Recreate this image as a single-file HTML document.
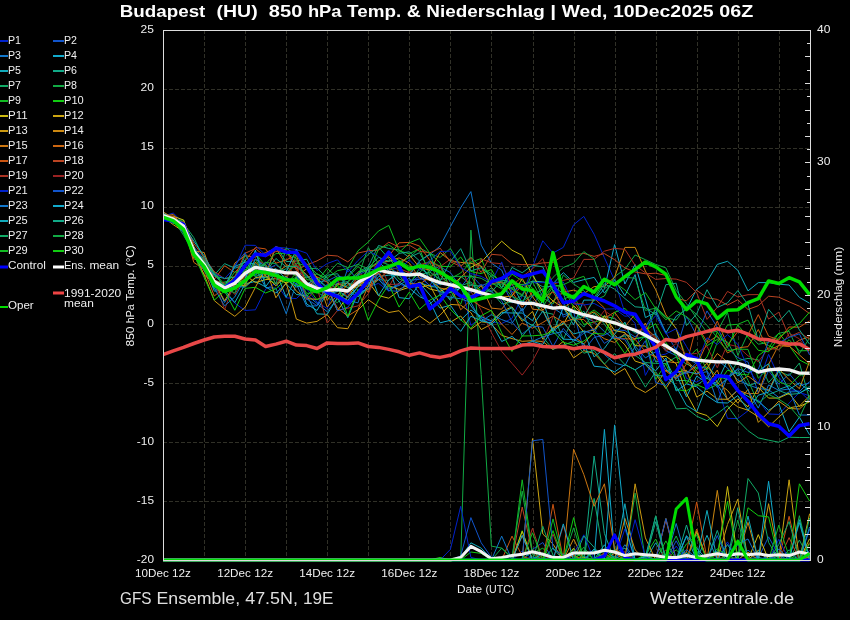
<!DOCTYPE html><html><head><meta charset="utf-8"><style>html,body{margin:0;padding:0;background:#000;}svg{display:block;will-change:transform;}text{font-family:"Liberation Sans",sans-serif;}</style></head><body>
<svg width="850" height="620" viewBox="0 0 850 620">
<rect width="850" height="620" fill="#000"/>
<path d="M163,89.5H810 M163,148.5H810 M163,207.5H810 M163,266.5H810 M163,324.5H810 M163,383.5H810 M163,442.5H810 M163,501.5H810 M204.5,30V560 M245.5,30V560 M286.5,30V560 M327.5,30V560 M368.5,30V560 M409.5,30V560 M450.5,30V560 M491.5,30V560 M533.5,30V560 M574.5,30V560 M615.5,30V560 M656.5,30V560 M697.5,30V560 M738.5,30V560 M779.5,30V560" stroke="#303027" stroke-width="1" stroke-dasharray="4 2" fill="none"/>
<defs><clipPath id="pc"><rect x="163" y="30" width="648.5" height="532"/></clipPath></defs>
<g clip-path="url(#pc)" fill="none" stroke-linejoin="round">
<polyline points="163.0,560.0 173.3,560.0 183.5,560.0 193.8,560.0 204.1,560.0 214.3,560.0 224.6,560.0 234.8,560.0 245.1,560.0 255.4,560.0 265.6,560.0 275.9,560.0 286.2,560.0 296.4,560.0 306.7,560.0 317.0,560.0 327.2,560.0 337.5,560.0 347.8,560.0 358.0,560.0 368.3,560.0 378.5,560.0 388.8,560.0 399.1,560.0 409.3,560.0 419.6,560.0 429.9,560.0 440.1,560.0 450.4,560.0 460.7,560.0 470.9,560.0 481.2,560.0 491.4,560.0 501.7,560.0 512.0,560.0 522.2,551.0 532.5,558.5 542.8,560.0 553.0,560.0 563.3,556.0 573.6,560.0 583.8,560.0 594.1,560.0 604.4,560.0 614.6,560.0 624.9,528.9 635.1,560.0 645.4,558.0 655.7,560.0 665.9,560.0 676.2,546.1 686.5,560.0 696.7,560.0 707.0,560.0 717.3,559.0 727.5,541.9 737.8,560.0 748.0,560.0 758.3,560.0 768.6,560.0 778.8,560.0 789.1,560.0 799.4,560.0 809.6,560.0" stroke="#0022cc" stroke-width="1"/>
<polyline points="163.0,560.0 173.3,560.0 183.5,560.0 193.8,560.0 204.1,560.0 214.3,560.0 224.6,560.0 234.8,560.0 245.1,560.0 255.4,560.0 265.6,560.0 275.9,560.0 286.2,560.0 296.4,560.0 306.7,560.0 317.0,560.0 327.2,560.0 337.5,560.0 347.8,560.0 358.0,560.0 368.3,560.0 378.5,560.0 388.8,560.0 399.1,560.0 409.3,560.0 419.6,560.0 429.9,560.0 440.1,560.0 450.4,560.0 460.7,560.0 470.9,560.0 481.2,560.0 491.4,560.0 501.7,560.0 512.0,560.0 522.2,560.0 532.5,549.3 542.8,542.5 553.0,560.0 563.3,560.0 573.6,560.0 583.8,560.0 594.1,560.0 604.4,560.0 614.6,560.0 624.9,560.0 635.1,560.0 645.4,560.0 655.7,560.0 665.9,560.0 676.2,540.8 686.5,560.0 696.7,560.0 707.0,560.0 717.3,560.0 727.5,560.0 737.8,560.0 748.0,550.2 758.3,558.0 768.6,536.8 778.8,555.5 789.1,560.0 799.4,560.0 809.6,550.5" stroke="#1155cc" stroke-width="1"/>
<polyline points="163.0,560.0 173.3,560.0 183.5,560.0 193.8,560.0 204.1,560.0 214.3,560.0 224.6,560.0 234.8,560.0 245.1,560.0 255.4,560.0 265.6,560.0 275.9,560.0 286.2,560.0 296.4,560.0 306.7,560.0 317.0,560.0 327.2,560.0 337.5,560.0 347.8,560.0 358.0,560.0 368.3,560.0 378.5,560.0 388.8,560.0 399.1,560.0 409.3,560.0 419.6,560.0 429.9,560.0 440.1,560.0 450.4,560.0 460.7,560.0 470.9,560.0 481.2,560.0 491.4,560.0 501.7,560.0 512.0,560.0 522.2,560.0 532.5,556.9 542.8,560.0 553.0,560.0 563.3,560.0 573.6,560.0 583.8,560.0 594.1,551.4 604.4,560.0 614.6,560.0 624.9,560.0 635.1,560.0 645.4,560.0 655.7,560.0 665.9,560.0 676.2,523.5 686.5,560.0 696.7,560.0 707.0,560.0 717.3,560.0 727.5,560.0 737.8,544.0 748.0,558.9 758.3,557.2 768.6,560.0 778.8,560.0 789.1,558.3 799.4,560.0 809.6,527.0" stroke="#1177cc" stroke-width="1"/>
<polyline points="163.0,560.0 173.3,560.0 183.5,560.0 193.8,560.0 204.1,560.0 214.3,560.0 224.6,560.0 234.8,560.0 245.1,560.0 255.4,560.0 265.6,560.0 275.9,560.0 286.2,560.0 296.4,560.0 306.7,560.0 317.0,560.0 327.2,560.0 337.5,560.0 347.8,560.0 358.0,560.0 368.3,560.0 378.5,560.0 388.8,560.0 399.1,560.0 409.3,560.0 419.6,560.0 429.9,560.0 440.1,560.0 450.4,560.0 460.7,560.0 470.9,560.0 481.2,560.0 491.4,560.0 501.7,560.0 512.0,560.0 522.2,560.0 532.5,560.0 542.8,558.3 553.0,560.0 563.3,560.0 573.6,560.0 583.8,559.6 594.1,560.0 604.4,429.4 614.6,553.4 624.9,548.1 635.1,560.0 645.4,560.0 655.7,560.0 665.9,560.0 676.2,560.0 686.5,536.5 696.7,560.0 707.0,560.0 717.3,560.0 727.5,560.0 737.8,560.0 748.0,560.0 758.3,560.0 768.6,560.0 778.8,560.0 789.1,560.0 799.4,560.0 809.6,560.0" stroke="#11aacc" stroke-width="1"/>
<polyline points="163.0,560.0 173.3,560.0 183.5,560.0 193.8,560.0 204.1,560.0 214.3,560.0 224.6,560.0 234.8,560.0 245.1,560.0 255.4,560.0 265.6,560.0 275.9,560.0 286.2,560.0 296.4,560.0 306.7,560.0 317.0,560.0 327.2,560.0 337.5,560.0 347.8,560.0 358.0,560.0 368.3,560.0 378.5,560.0 388.8,560.0 399.1,560.0 409.3,560.0 419.6,560.0 429.9,560.0 440.1,560.0 450.4,560.0 460.7,557.4 470.9,542.8 481.2,548.1 491.4,558.7 501.7,560.0 512.0,560.0 522.2,560.0 532.5,560.0 542.8,560.0 553.0,560.0 563.3,560.0 573.6,560.0 583.8,556.4 594.1,560.0 604.4,560.0 614.6,560.0 624.9,503.7 635.1,560.0 645.4,560.0 655.7,542.8 665.9,560.0 676.2,560.0 686.5,560.0 696.7,560.0 707.0,535.3 717.3,560.0 727.5,560.0 737.8,560.0 748.0,560.0 758.3,560.0 768.6,560.0 778.8,560.0 789.1,557.8 799.4,522.6 809.6,560.0" stroke="#11aabb" stroke-width="1"/>
<polyline points="163.0,560.0 173.3,560.0 183.5,560.0 193.8,560.0 204.1,560.0 214.3,560.0 224.6,560.0 234.8,560.0 245.1,560.0 255.4,560.0 265.6,560.0 275.9,560.0 286.2,560.0 296.4,560.0 306.7,560.0 317.0,560.0 327.2,560.0 337.5,560.0 347.8,560.0 358.0,560.0 368.3,560.0 378.5,560.0 388.8,560.0 399.1,560.0 409.3,560.0 419.6,560.0 429.9,560.0 440.1,560.0 450.4,560.0 460.7,560.0 470.9,560.0 481.2,560.0 491.4,560.0 501.7,560.0 512.0,560.0 522.2,560.0 532.5,560.0 542.8,560.0 553.0,560.0 563.3,560.0 573.6,560.0 583.8,560.0 594.1,456.0 604.4,533.5 614.6,560.0 624.9,560.0 635.1,560.0 645.4,560.0 655.7,521.7 665.9,560.0 676.2,560.0 686.5,560.0 696.7,560.0 707.0,560.0 717.3,560.0 727.5,560.0 737.8,560.0 748.0,560.0 758.3,550.8 768.6,559.9 778.8,560.0 789.1,549.8 799.4,560.0 809.6,560.0" stroke="#11aa88" stroke-width="1"/>
<polyline points="163.0,560.0 173.3,560.0 183.5,560.0 193.8,560.0 204.1,560.0 214.3,560.0 224.6,560.0 234.8,560.0 245.1,560.0 255.4,560.0 265.6,560.0 275.9,560.0 286.2,560.0 296.4,560.0 306.7,560.0 317.0,560.0 327.2,560.0 337.5,560.0 347.8,560.0 358.0,560.0 368.3,560.0 378.5,560.0 388.8,560.0 399.1,560.0 409.3,560.0 419.6,560.0 429.9,560.0 440.1,560.0 450.4,560.0 460.7,560.0 470.9,560.0 481.2,560.0 491.4,560.0 501.7,560.0 512.0,560.0 522.2,560.0 532.5,560.0 542.8,560.0 553.0,560.0 563.3,560.0 573.6,560.0 583.8,560.0 594.1,498.4 604.4,560.0 614.6,560.0 624.9,560.0 635.1,560.0 645.4,560.0 655.7,560.0 665.9,560.0 676.2,560.0 686.5,560.0 696.7,560.0 707.0,560.0 717.3,560.0 727.5,560.0 737.8,557.9 748.0,478.5 758.3,493.0 768.6,542.4 778.8,560.0 789.1,560.0 799.4,540.0 809.6,560.0" stroke="#11aa66" stroke-width="1"/>
<polyline points="163.0,560.0 173.3,560.0 183.5,560.0 193.8,560.0 204.1,560.0 214.3,560.0 224.6,560.0 234.8,560.0 245.1,560.0 255.4,560.0 265.6,560.0 275.9,560.0 286.2,560.0 296.4,560.0 306.7,560.0 317.0,560.0 327.2,560.0 337.5,560.0 347.8,560.0 358.0,560.0 368.3,560.0 378.5,560.0 388.8,560.0 399.1,560.0 409.3,560.0 419.6,560.0 429.9,560.0 440.1,560.0 450.4,560.0 460.7,560.0 470.9,230.1 481.2,374.5 491.4,546.1 501.7,548.1 512.0,558.7 522.2,560.0 532.5,551.0 542.8,560.0 553.0,560.0 563.3,553.9 573.6,560.0 583.8,547.2 594.1,560.0 604.4,553.6 614.6,560.0 624.9,560.0 635.1,493.1 645.4,560.0 655.7,560.0 665.9,555.1 676.2,536.0 686.5,560.0 696.7,551.3 707.0,560.0 717.3,560.0 727.5,560.0 737.8,520.0 748.0,560.0 758.3,560.0 768.6,559.1 778.8,560.0 789.1,560.0 799.4,515.7 809.6,560.0" stroke="#11aa44" stroke-width="1"/>
<polyline points="163.0,560.0 173.3,560.0 183.5,560.0 193.8,560.0 204.1,560.0 214.3,560.0 224.6,560.0 234.8,560.0 245.1,560.0 255.4,560.0 265.6,560.0 275.9,560.0 286.2,560.0 296.4,560.0 306.7,560.0 317.0,560.0 327.2,560.0 337.5,560.0 347.8,560.0 358.0,560.0 368.3,560.0 378.5,560.0 388.8,560.0 399.1,560.0 409.3,560.0 419.6,560.0 429.9,560.0 440.1,560.0 450.4,560.0 460.7,560.0 470.9,560.0 481.2,560.0 491.4,560.0 501.7,560.0 512.0,560.0 522.2,479.8 532.5,553.4 542.8,548.1 553.0,560.0 563.3,557.2 573.6,556.4 583.8,560.0 594.1,560.0 604.4,560.0 614.6,560.0 624.9,560.0 635.1,553.2 645.4,555.4 655.7,539.0 665.9,560.0 676.2,549.8 686.5,560.0 696.7,532.8 707.0,560.0 717.3,560.0 727.5,560.0 737.8,560.0 748.0,560.0 758.3,560.0 768.6,560.0 778.8,560.0 789.1,560.0 799.4,560.0 809.6,560.0" stroke="#11bb22" stroke-width="1"/>
<polyline points="163.0,560.0 173.3,560.0 183.5,560.0 193.8,560.0 204.1,560.0 214.3,560.0 224.6,560.0 234.8,560.0 245.1,560.0 255.4,560.0 265.6,560.0 275.9,560.0 286.2,560.0 296.4,560.0 306.7,560.0 317.0,560.0 327.2,560.0 337.5,560.0 347.8,560.0 358.0,560.0 368.3,560.0 378.5,560.0 388.8,560.0 399.1,560.0 409.3,560.0 419.6,560.0 429.9,560.0 440.1,557.4 450.4,560.0 460.7,560.0 470.9,552.0 481.2,553.4 491.4,560.0 501.7,560.0 512.0,560.0 522.2,530.7 532.5,560.0 542.8,560.0 553.0,560.0 563.3,560.0 573.6,517.6 583.8,560.0 594.1,550.6 604.4,560.0 614.6,560.0 624.9,560.0 635.1,560.0 645.4,560.0 655.7,560.0 665.9,560.0 676.2,560.0 686.5,552.4 696.7,560.0 707.0,560.0 717.3,548.8 727.5,555.1 737.8,551.9 748.0,559.6 758.3,560.0 768.6,560.0 778.8,560.0 789.1,560.0 799.4,483.8 809.6,501.0" stroke="#11cc11" stroke-width="1"/>
<polyline points="163.0,560.0 173.3,560.0 183.5,560.0 193.8,560.0 204.1,560.0 214.3,560.0 224.6,560.0 234.8,560.0 245.1,560.0 255.4,560.0 265.6,560.0 275.9,560.0 286.2,560.0 296.4,560.0 306.7,560.0 317.0,560.0 327.2,560.0 337.5,560.0 347.8,560.0 358.0,560.0 368.3,560.0 378.5,560.0 388.8,560.0 399.1,560.0 409.3,560.0 419.6,560.0 429.9,560.0 440.1,560.0 450.4,560.0 460.7,560.0 470.9,560.0 481.2,560.0 491.4,560.0 501.7,560.0 512.0,560.0 522.2,531.3 532.5,560.0 542.8,560.0 553.0,560.0 563.3,560.0 573.6,548.2 583.8,560.0 594.1,560.0 604.4,560.0 614.6,560.0 624.9,560.0 635.1,560.0 645.4,560.0 655.7,560.0 665.9,560.0 676.2,557.7 686.5,560.0 696.7,531.3 707.0,560.0 717.3,560.0 727.5,486.5 737.8,560.0 748.0,560.0 758.3,534.6 768.6,560.0 778.8,560.0 789.1,560.0 799.4,560.0 809.6,538.8" stroke="#ccbb11" stroke-width="1"/>
<polyline points="163.0,560.0 173.3,560.0 183.5,560.0 193.8,560.0 204.1,560.0 214.3,560.0 224.6,560.0 234.8,560.0 245.1,560.0 255.4,560.0 265.6,560.0 275.9,560.0 286.2,560.0 296.4,560.0 306.7,560.0 317.0,560.0 327.2,560.0 337.5,560.0 347.8,560.0 358.0,560.0 368.3,560.0 378.5,560.0 388.8,560.0 399.1,560.0 409.3,560.0 419.6,560.0 429.9,560.0 440.1,560.0 450.4,560.0 460.7,560.0 470.9,560.0 481.2,560.0 491.4,560.0 501.7,560.0 512.0,560.0 522.2,560.0 532.5,438.6 542.8,534.0 553.0,544.1 563.3,560.0 573.6,560.0 583.8,557.5 594.1,560.0 604.4,560.0 614.6,560.0 624.9,560.0 635.1,559.0 645.4,560.0 655.7,560.0 665.9,560.0 676.2,560.0 686.5,560.0 696.7,560.0 707.0,560.0 717.3,560.0 727.5,524.4 737.8,499.2 748.0,560.0 758.3,550.2 768.6,560.0 778.8,560.0 789.1,479.8 799.4,560.0 809.6,513.7" stroke="#cca511" stroke-width="1"/>
<polyline points="163.0,560.0 173.3,560.0 183.5,560.0 193.8,560.0 204.1,560.0 214.3,560.0 224.6,560.0 234.8,560.0 245.1,560.0 255.4,560.0 265.6,560.0 275.9,560.0 286.2,560.0 296.4,560.0 306.7,560.0 317.0,560.0 327.2,560.0 337.5,560.0 347.8,560.0 358.0,560.0 368.3,560.0 378.5,560.0 388.8,560.0 399.1,560.0 409.3,560.0 419.6,560.0 429.9,560.0 440.1,560.0 450.4,560.0 460.7,560.0 470.9,560.0 481.2,560.0 491.4,560.0 501.7,560.0 512.0,560.0 522.2,560.0 532.5,560.0 542.8,560.0 553.0,560.0 563.3,560.0 573.6,559.9 583.8,560.0 594.1,560.0 604.4,560.0 614.6,553.3 624.9,560.0 635.1,483.8 645.4,537.9 655.7,560.0 665.9,518.5 676.2,560.0 686.5,560.0 696.7,560.0 707.0,560.0 717.3,560.0 727.5,560.0 737.8,560.0 748.0,560.0 758.3,560.0 768.6,503.7 778.8,558.3 789.1,560.0 799.4,560.0 809.6,560.0" stroke="#cc9911" stroke-width="1"/>
<polyline points="163.0,560.0 173.3,560.0 183.5,560.0 193.8,560.0 204.1,560.0 214.3,560.0 224.6,560.0 234.8,560.0 245.1,560.0 255.4,560.0 265.6,560.0 275.9,560.0 286.2,560.0 296.4,560.0 306.7,560.0 317.0,560.0 327.2,560.0 337.5,560.0 347.8,560.0 358.0,560.0 368.3,560.0 378.5,560.0 388.8,560.0 399.1,560.0 409.3,560.0 419.6,560.0 429.9,560.0 440.1,560.0 450.4,560.0 460.7,560.0 470.9,560.0 481.2,560.0 491.4,560.0 501.7,560.0 512.0,560.0 522.2,560.0 532.5,560.0 542.8,560.0 553.0,560.0 563.3,560.0 573.6,539.0 583.8,560.0 594.1,560.0 604.4,560.0 614.6,560.0 624.9,518.4 635.1,549.8 645.4,560.0 655.7,560.0 665.9,560.0 676.2,560.0 686.5,560.0 696.7,560.0 707.0,560.0 717.3,490.4 727.5,560.0 737.8,557.2 748.0,522.4 758.3,560.0 768.6,560.0 778.8,560.0 789.1,560.0 799.4,560.0 809.6,556.6" stroke="#cc8811" stroke-width="1"/>
<polyline points="163.0,560.0 173.3,560.0 183.5,560.0 193.8,560.0 204.1,560.0 214.3,560.0 224.6,560.0 234.8,560.0 245.1,560.0 255.4,560.0 265.6,560.0 275.9,560.0 286.2,560.0 296.4,560.0 306.7,560.0 317.0,560.0 327.2,560.0 337.5,560.0 347.8,560.0 358.0,560.0 368.3,560.0 378.5,560.0 388.8,560.0 399.1,560.0 409.3,560.0 419.6,560.0 429.9,560.0 440.1,560.0 450.4,560.0 460.7,560.0 470.9,560.0 481.2,560.0 491.4,560.0 501.7,560.0 512.0,560.0 522.2,560.0 532.5,560.0 542.8,560.0 553.0,560.0 563.3,560.0 573.6,449.2 583.8,474.5 594.1,506.3 604.4,483.8 614.6,549.4 624.9,555.0 635.1,560.0 645.4,560.0 655.7,560.0 665.9,560.0 676.2,560.0 686.5,560.0 696.7,559.5 707.0,560.0 717.3,560.0 727.5,560.0 737.8,560.0 748.0,552.1 758.3,560.0 768.6,560.0 778.8,560.0 789.1,560.0 799.4,560.0 809.6,557.3" stroke="#cc7711" stroke-width="1"/>
<polyline points="163.0,560.0 173.3,560.0 183.5,560.0 193.8,560.0 204.1,560.0 214.3,560.0 224.6,560.0 234.8,560.0 245.1,560.0 255.4,560.0 265.6,560.0 275.9,560.0 286.2,560.0 296.4,560.0 306.7,560.0 317.0,560.0 327.2,560.0 337.5,560.0 347.8,560.0 358.0,560.0 368.3,560.0 378.5,560.0 388.8,560.0 399.1,560.0 409.3,560.0 419.6,560.0 429.9,560.0 440.1,560.0 450.4,560.0 460.7,560.0 470.9,560.0 481.2,560.0 491.4,560.0 501.7,560.0 512.0,560.0 522.2,535.8 532.5,560.0 542.8,560.0 553.0,560.0 563.3,560.0 573.6,555.4 583.8,560.0 594.1,560.0 604.4,558.8 614.6,560.0 624.9,560.0 635.1,560.0 645.4,560.0 655.7,560.0 665.9,554.3 676.2,560.0 686.5,560.0 696.7,529.0 707.0,560.0 717.3,560.0 727.5,560.0 737.8,560.0 748.0,560.0 758.3,560.0 768.6,560.0 778.8,549.0 789.1,560.0 799.4,560.0 809.6,560.0" stroke="#cc6611" stroke-width="1"/>
<polyline points="163.0,560.0 173.3,560.0 183.5,560.0 193.8,560.0 204.1,560.0 214.3,560.0 224.6,560.0 234.8,560.0 245.1,560.0 255.4,560.0 265.6,560.0 275.9,560.0 286.2,560.0 296.4,560.0 306.7,560.0 317.0,560.0 327.2,560.0 337.5,560.0 347.8,560.0 358.0,560.0 368.3,560.0 378.5,560.0 388.8,560.0 399.1,560.0 409.3,560.0 419.6,560.0 429.9,560.0 440.1,560.0 450.4,560.0 460.7,560.0 470.9,560.0 481.2,560.0 491.4,560.0 501.7,560.0 512.0,536.1 522.2,556.0 532.5,560.0 542.8,560.0 553.0,504.3 563.3,560.0 573.6,560.0 583.8,560.0 594.1,560.0 604.4,560.0 614.6,560.0 624.9,560.0 635.1,560.0 645.4,556.0 655.7,560.0 665.9,560.0 676.2,560.0 686.5,552.1 696.7,501.9 707.0,559.2 717.3,552.1 727.5,560.0 737.8,560.0 748.0,560.0 758.3,560.0 768.6,560.0 778.8,560.0 789.1,516.3 799.4,560.0 809.6,542.6" stroke="#cc5511" stroke-width="1"/>
<polyline points="163.0,560.0 173.3,560.0 183.5,560.0 193.8,560.0 204.1,560.0 214.3,560.0 224.6,560.0 234.8,560.0 245.1,560.0 255.4,560.0 265.6,560.0 275.9,560.0 286.2,560.0 296.4,560.0 306.7,560.0 317.0,560.0 327.2,560.0 337.5,560.0 347.8,560.0 358.0,560.0 368.3,560.0 378.5,560.0 388.8,560.0 399.1,560.0 409.3,560.0 419.6,560.0 429.9,560.0 440.1,560.0 450.4,560.0 460.7,560.0 470.9,560.0 481.2,560.0 491.4,560.0 501.7,560.0 512.0,560.0 522.2,507.0 532.5,553.0 542.8,560.0 553.0,560.0 563.3,560.0 573.6,549.8 583.8,560.0 594.1,560.0 604.4,552.8 614.6,560.0 624.9,551.6 635.1,560.0 645.4,560.0 655.7,559.4 665.9,519.8 676.2,560.0 686.5,560.0 696.7,560.0 707.0,560.0 717.3,560.0 727.5,560.0 737.8,560.0 748.0,560.0 758.3,560.0 768.6,560.0 778.8,560.0 789.1,537.6 799.4,560.0 809.6,560.0" stroke="#bb4422" stroke-width="1"/>
<polyline points="163.0,560.0 173.3,560.0 183.5,560.0 193.8,560.0 204.1,560.0 214.3,560.0 224.6,560.0 234.8,560.0 245.1,560.0 255.4,560.0 265.6,560.0 275.9,560.0 286.2,560.0 296.4,560.0 306.7,560.0 317.0,560.0 327.2,560.0 337.5,560.0 347.8,560.0 358.0,560.0 368.3,560.0 378.5,560.0 388.8,560.0 399.1,560.0 409.3,560.0 419.6,560.0 429.9,560.0 440.1,560.0 450.4,560.0 460.7,560.0 470.9,560.0 481.2,560.0 491.4,560.0 501.7,560.0 512.0,560.0 522.2,560.0 532.5,528.2 542.8,560.0 553.0,534.2 563.3,560.0 573.6,560.0 583.8,560.0 594.1,560.0 604.4,560.0 614.6,560.0 624.9,560.0 635.1,560.0 645.4,556.5 655.7,560.0 665.9,560.0 676.2,559.5 686.5,560.0 696.7,560.0 707.0,560.0 717.3,560.0 727.5,560.0 737.8,560.0 748.0,558.4 758.3,560.0 768.6,560.0 778.8,560.0 789.1,560.0 799.4,560.0 809.6,560.0" stroke="#aa3322" stroke-width="1"/>
<polyline points="163.0,560.0 173.3,560.0 183.5,560.0 193.8,560.0 204.1,560.0 214.3,560.0 224.6,560.0 234.8,560.0 245.1,560.0 255.4,560.0 265.6,560.0 275.9,560.0 286.2,560.0 296.4,560.0 306.7,560.0 317.0,560.0 327.2,560.0 337.5,560.0 347.8,560.0 358.0,560.0 368.3,560.0 378.5,560.0 388.8,560.0 399.1,560.0 409.3,560.0 419.6,560.0 429.9,560.0 440.1,560.0 450.4,560.0 460.7,560.0 470.9,560.0 481.2,560.0 491.4,560.0 501.7,560.0 512.0,560.0 522.2,560.0 532.5,560.0 542.8,555.5 553.0,560.0 563.3,525.7 573.6,560.0 583.8,560.0 594.1,560.0 604.4,560.0 614.6,560.0 624.9,560.0 635.1,560.0 645.4,560.0 655.7,560.0 665.9,549.8 676.2,560.0 686.5,560.0 696.7,560.0 707.0,554.5 717.3,556.7 727.5,560.0 737.8,560.0 748.0,560.0 758.3,560.0 768.6,560.0 778.8,560.0 789.1,560.0 799.4,560.0 809.6,560.0" stroke="#992222" stroke-width="1"/>
<polyline points="163.0,560.0 173.3,560.0 183.5,560.0 193.8,560.0 204.1,560.0 214.3,560.0 224.6,560.0 234.8,560.0 245.1,560.0 255.4,560.0 265.6,560.0 275.9,560.0 286.2,560.0 296.4,560.0 306.7,560.0 317.0,560.0 327.2,560.0 337.5,560.0 347.8,560.0 358.0,560.0 368.3,560.0 378.5,560.0 388.8,560.0 399.1,560.0 409.3,560.0 419.6,560.0 429.9,560.0 440.1,560.0 450.4,549.4 460.7,506.3 470.9,557.4 481.2,560.0 491.4,560.0 501.7,560.0 512.0,560.0 522.2,560.0 532.5,560.0 542.8,559.8 553.0,560.0 563.3,560.0 573.6,554.0 583.8,534.8 594.1,560.0 604.4,558.3 614.6,560.0 624.9,560.0 635.1,519.7 645.4,557.2 655.7,560.0 665.9,560.0 676.2,560.0 686.5,560.0 696.7,560.0 707.0,560.0 717.3,560.0 727.5,560.0 737.8,560.0 748.0,560.0 758.3,560.0 768.6,560.0 778.8,539.3 789.1,559.9 799.4,560.0 809.6,560.0" stroke="#0022cc" stroke-width="1"/>
<polyline points="163.0,560.0 173.3,560.0 183.5,560.0 193.8,560.0 204.1,560.0 214.3,560.0 224.6,560.0 234.8,560.0 245.1,560.0 255.4,560.0 265.6,560.0 275.9,560.0 286.2,560.0 296.4,560.0 306.7,560.0 317.0,560.0 327.2,560.0 337.5,560.0 347.8,560.0 358.0,560.0 368.3,560.0 378.5,560.0 388.8,560.0 399.1,560.0 409.3,560.0 419.6,560.0 429.9,560.0 440.1,560.0 450.4,560.0 460.7,556.0 470.9,517.6 481.2,542.8 491.4,557.4 501.7,560.0 512.0,560.0 522.2,560.0 532.5,440.8 542.8,439.4 553.0,549.4 563.3,554.7 573.6,560.0 583.8,560.0 594.1,549.3 604.4,560.0 614.6,560.0 624.9,557.8 635.1,560.0 645.4,560.0 655.7,560.0 665.9,518.6 676.2,560.0 686.5,560.0 696.7,560.0 707.0,560.0 717.3,535.5 727.5,560.0 737.8,560.0 748.0,560.0 758.3,560.0 768.6,556.1 778.8,560.0 789.1,560.0 799.4,560.0 809.6,555.5" stroke="#1155cc" stroke-width="1"/>
<polyline points="163.0,560.0 173.3,560.0 183.5,560.0 193.8,560.0 204.1,560.0 214.3,560.0 224.6,560.0 234.8,560.0 245.1,560.0 255.4,560.0 265.6,560.0 275.9,560.0 286.2,560.0 296.4,560.0 306.7,560.0 317.0,560.0 327.2,560.0 337.5,560.0 347.8,560.0 358.0,560.0 368.3,560.0 378.5,560.0 388.8,560.0 399.1,560.0 409.3,560.0 419.6,560.0 429.9,560.0 440.1,560.0 450.4,560.0 460.7,560.0 470.9,560.0 481.2,560.0 491.4,560.0 501.7,536.1 512.0,560.0 522.2,560.0 532.5,560.0 542.8,560.0 553.0,560.0 563.3,560.0 573.6,560.0 583.8,560.0 594.1,560.0 604.4,560.0 614.6,560.0 624.9,544.7 635.1,560.0 645.4,560.0 655.7,560.0 665.9,560.0 676.2,560.0 686.5,549.8 696.7,557.8 707.0,560.0 717.3,550.7 727.5,560.0 737.8,543.9 748.0,539.0 758.3,560.0 768.6,560.0 778.8,548.9 789.1,560.0 799.4,560.0 809.6,529.1" stroke="#1177cc" stroke-width="1"/>
<polyline points="163.0,560.0 173.3,560.0 183.5,560.0 193.8,560.0 204.1,560.0 214.3,560.0 224.6,560.0 234.8,560.0 245.1,560.0 255.4,560.0 265.6,560.0 275.9,560.0 286.2,560.0 296.4,560.0 306.7,560.0 317.0,560.0 327.2,560.0 337.5,560.0 347.8,560.0 358.0,560.0 368.3,560.0 378.5,560.0 388.8,560.0 399.1,560.0 409.3,560.0 419.6,560.0 429.9,560.0 440.1,560.0 450.4,560.0 460.7,560.0 470.9,560.0 481.2,560.0 491.4,560.0 501.7,560.0 512.0,560.0 522.2,535.3 532.5,560.0 542.8,553.1 553.0,560.0 563.3,523.9 573.6,560.0 583.8,560.0 594.1,548.9 604.4,560.0 614.6,424.9 624.9,525.5 635.1,560.0 645.4,556.8 655.7,516.2 665.9,560.0 676.2,560.0 686.5,535.6 696.7,548.0 707.0,560.0 717.3,560.0 727.5,560.0 737.8,560.0 748.0,560.0 758.3,560.0 768.6,481.2 778.8,560.0 789.1,560.0 799.4,560.0 809.6,560.0" stroke="#11aacc" stroke-width="1"/>
<polyline points="163.0,560.0 173.3,560.0 183.5,560.0 193.8,560.0 204.1,560.0 214.3,560.0 224.6,560.0 234.8,560.0 245.1,560.0 255.4,560.0 265.6,560.0 275.9,560.0 286.2,560.0 296.4,560.0 306.7,560.0 317.0,560.0 327.2,560.0 337.5,560.0 347.8,560.0 358.0,560.0 368.3,560.0 378.5,560.0 388.8,560.0 399.1,560.0 409.3,560.0 419.6,560.0 429.9,560.0 440.1,560.0 450.4,560.0 460.7,560.0 470.9,560.0 481.2,560.0 491.4,560.0 501.7,560.0 512.0,560.0 522.2,560.0 532.5,560.0 542.8,560.0 553.0,560.0 563.3,560.0 573.6,560.0 583.8,560.0 594.1,559.5 604.4,544.8 614.6,560.0 624.9,560.0 635.1,560.0 645.4,555.9 655.7,560.0 665.9,560.0 676.2,560.0 686.5,553.0 696.7,560.0 707.0,510.4 717.3,560.0 727.5,544.5 737.8,560.0 748.0,516.1 758.3,560.0 768.6,558.4 778.8,560.0 789.1,560.0 799.4,519.7 809.6,560.0" stroke="#11aabb" stroke-width="1"/>
<polyline points="163.0,560.0 173.3,560.0 183.5,560.0 193.8,560.0 204.1,560.0 214.3,560.0 224.6,560.0 234.8,560.0 245.1,560.0 255.4,560.0 265.6,560.0 275.9,560.0 286.2,560.0 296.4,560.0 306.7,560.0 317.0,560.0 327.2,560.0 337.5,560.0 347.8,560.0 358.0,560.0 368.3,560.0 378.5,560.0 388.8,560.0 399.1,560.0 409.3,560.0 419.6,560.0 429.9,560.0 440.1,560.0 450.4,560.0 460.7,560.0 470.9,560.0 481.2,560.0 491.4,560.0 501.7,560.0 512.0,560.0 522.2,560.0 532.5,560.0 542.8,560.0 553.0,547.9 563.3,560.0 573.6,560.0 583.8,536.0 594.1,547.3 604.4,560.0 614.6,556.5 624.9,560.0 635.1,560.0 645.4,560.0 655.7,560.0 665.9,554.1 676.2,560.0 686.5,525.0 696.7,560.0 707.0,560.0 717.3,530.4 727.5,560.0 737.8,507.7 748.0,560.0 758.3,560.0 768.6,560.0 778.8,555.8 789.1,553.5 799.4,560.0 809.6,560.0" stroke="#11aa88" stroke-width="1"/>
<polyline points="163.0,560.0 173.3,560.0 183.5,560.0 193.8,560.0 204.1,560.0 214.3,560.0 224.6,560.0 234.8,560.0 245.1,560.0 255.4,560.0 265.6,560.0 275.9,560.0 286.2,560.0 296.4,560.0 306.7,560.0 317.0,560.0 327.2,560.0 337.5,560.0 347.8,560.0 358.0,560.0 368.3,560.0 378.5,560.0 388.8,560.0 399.1,560.0 409.3,560.0 419.6,560.0 429.9,560.0 440.1,560.0 450.4,560.0 460.7,560.0 470.9,560.0 481.2,560.0 491.4,560.0 501.7,560.0 512.0,560.0 522.2,560.0 532.5,560.0 542.8,526.3 553.0,555.2 563.3,560.0 573.6,560.0 583.8,560.0 594.1,560.0 604.4,560.0 614.6,560.0 624.9,560.0 635.1,560.0 645.4,560.0 655.7,515.7 665.9,560.0 676.2,560.0 686.5,560.0 696.7,560.0 707.0,560.0 717.3,560.0 727.5,560.0 737.8,560.0 748.0,560.0 758.3,560.0 768.6,560.0 778.8,544.5 789.1,521.6 799.4,559.6 809.6,518.0" stroke="#11aa66" stroke-width="1"/>
<polyline points="163.0,560.0 173.3,560.0 183.5,560.0 193.8,560.0 204.1,560.0 214.3,560.0 224.6,560.0 234.8,560.0 245.1,560.0 255.4,560.0 265.6,560.0 275.9,560.0 286.2,560.0 296.4,560.0 306.7,560.0 317.0,560.0 327.2,560.0 337.5,560.0 347.8,560.0 358.0,560.0 368.3,560.0 378.5,560.0 388.8,560.0 399.1,560.0 409.3,560.0 419.6,560.0 429.9,560.0 440.1,560.0 450.4,560.0 460.7,560.0 470.9,560.0 481.2,560.0 491.4,560.0 501.7,548.1 512.0,557.4 522.2,491.1 532.5,554.7 542.8,560.0 553.0,560.0 563.3,560.0 573.6,527.8 583.8,560.0 594.1,560.0 604.4,556.3 614.6,559.4 624.9,560.0 635.1,560.0 645.4,560.0 655.7,560.0 665.9,560.0 676.2,560.0 686.5,558.4 696.7,560.0 707.0,553.9 717.3,560.0 727.5,555.3 737.8,560.0 748.0,560.0 758.3,560.0 768.6,560.0 778.8,560.0 789.1,560.0 799.4,560.0 809.6,560.0" stroke="#11aa44" stroke-width="1"/>
<polyline points="163.0,560.0 173.3,560.0 183.5,560.0 193.8,560.0 204.1,560.0 214.3,560.0 224.6,560.0 234.8,560.0 245.1,560.0 255.4,560.0 265.6,560.0 275.9,560.0 286.2,560.0 296.4,560.0 306.7,560.0 317.0,560.0 327.2,560.0 337.5,560.0 347.8,560.0 358.0,560.0 368.3,560.0 378.5,560.0 388.8,560.0 399.1,560.0 409.3,560.0 419.6,560.0 429.9,560.0 440.1,560.0 450.4,560.0 460.7,560.0 470.9,560.0 481.2,560.0 491.4,560.0 501.7,560.0 512.0,560.0 522.2,560.0 532.5,532.8 542.8,560.0 553.0,518.9 563.3,560.0 573.6,549.3 583.8,560.0 594.1,560.0 604.4,549.2 614.6,560.0 624.9,560.0 635.1,560.0 645.4,560.0 655.7,560.0 665.9,540.9 676.2,560.0 686.5,543.9 696.7,535.3 707.0,560.0 717.3,560.0 727.5,560.0 737.8,560.0 748.0,560.0 758.3,560.0 768.6,560.0 778.8,525.1 789.1,556.3 799.4,560.0 809.6,560.0" stroke="#11bb22" stroke-width="1"/>
<polyline points="163.0,560.0 173.3,560.0 183.5,560.0 193.8,560.0 204.1,560.0 214.3,560.0 224.6,560.0 234.8,560.0 245.1,560.0 255.4,560.0 265.6,560.0 275.9,560.0 286.2,560.0 296.4,560.0 306.7,560.0 317.0,560.0 327.2,560.0 337.5,560.0 347.8,560.0 358.0,560.0 368.3,560.0 378.5,560.0 388.8,560.0 399.1,560.0 409.3,560.0 419.6,560.0 429.9,560.0 440.1,560.0 450.4,560.0 460.7,560.0 470.9,560.0 481.2,560.0 491.4,560.0 501.7,560.0 512.0,560.0 522.2,560.0 532.5,560.0 542.8,560.0 553.0,530.6 563.3,560.0 573.6,560.0 583.8,550.8 594.1,560.0 604.4,560.0 614.6,550.1 624.9,560.0 635.1,560.0 645.4,554.3 655.7,560.0 665.9,560.0 676.2,557.3 686.5,560.0 696.7,560.0 707.0,560.0 717.3,553.7 727.5,501.3 737.8,560.0 748.0,507.8 758.3,515.7 768.6,516.9 778.8,560.0 789.1,560.0 799.4,560.0 809.6,543.8" stroke="#11cc11" stroke-width="1"/>
<polyline points="163.0,216.1 173.3,213.1 183.5,223.1 193.8,250.8 204.1,270.5 214.3,282.9 224.6,292.3 234.8,303.1 245.1,310.5 255.4,309.8 265.6,289.1 275.9,283.2 286.2,297.8 296.4,298.6 306.7,288.9 317.0,302.1 327.2,308.6 337.5,281.1 347.8,294.2 358.0,294.7 368.3,286.9 378.5,283.4 388.8,291.1 399.1,284.1 409.3,287.6 419.6,277.0 429.9,285.8 440.1,284.3 450.4,285.0 460.7,282.8 470.9,325.4 481.2,317.4 491.4,321.7 501.7,323.5 512.0,318.5 522.2,295.6 532.5,267.1 542.8,240.8 553.0,253.0 563.3,247.4 573.6,224.8 583.8,216.4 594.1,234.2 604.4,257.7 614.6,280.4 624.9,312.8 635.1,323.3 645.4,375.4 655.7,356.2 665.9,354.0 676.2,348.2 686.5,378.4 696.7,382.1 707.0,375.8 717.3,385.3 727.5,418.4 737.8,418.5 748.0,410.8 758.3,399.7 768.6,414.0 778.8,414.4 789.1,403.1 799.4,392.4 809.6,395.9" stroke="#0022cc" stroke-width="1"/>
<polyline points="163.0,212.1 173.3,218.7 183.5,226.4 193.8,246.7 204.1,259.7 214.3,274.9 224.6,285.9 234.8,283.8 245.1,280.0 255.4,270.5 265.6,270.6 275.9,264.6 286.2,272.9 296.4,272.2 306.7,276.5 317.0,281.5 327.2,281.0 337.5,275.9 347.8,278.5 358.0,275.2 368.3,269.8 378.5,269.3 388.8,267.8 399.1,273.7 409.3,283.2 419.6,275.6 429.9,285.8 440.1,266.9 450.4,272.6 460.7,287.1 470.9,274.7 481.2,285.8 491.4,281.6 501.7,281.8 512.0,302.7 522.2,301.1 532.5,304.9 542.8,292.1 553.0,283.1 563.3,317.2 573.6,311.9 583.8,350.7 594.1,337.4 604.4,335.1 614.6,329.7 624.9,330.5 635.1,336.9 645.4,327.3 655.7,309.5 665.9,332.8 676.2,350.0 686.5,316.3 696.7,335.5 707.0,310.9 717.3,327.3 727.5,348.2 737.8,357.7 748.0,362.0 758.3,392.8 768.6,370.7 778.8,384.2 789.1,373.6 799.4,385.7 809.6,382.9" stroke="#1155cc" stroke-width="1"/>
<polyline points="163.0,214.0 173.3,219.6 183.5,231.2 193.8,252.5 204.1,262.8 214.3,281.8 224.6,302.5 234.8,286.4 245.1,283.2 255.4,268.1 265.6,287.5 275.9,288.2 286.2,313.8 296.4,283.1 306.7,294.8 317.0,303.4 327.2,311.7 337.5,298.3 347.8,268.5 358.0,280.2 368.3,283.6 378.5,279.2 388.8,290.9 399.1,283.1 409.3,274.3 419.6,260.8 429.9,254.6 440.1,246.1 450.4,226.7 460.7,207.8 470.9,191.6 481.2,245.1 491.4,263.1 501.7,270.1 512.0,294.8 522.2,311.4 532.5,295.8 542.8,288.8 553.0,307.8 563.3,314.7 573.6,312.1 583.8,316.9 594.1,321.6 604.4,331.6 614.6,339.3 624.9,334.7 635.1,338.7 645.4,337.4 655.7,333.8 665.9,350.6 676.2,355.6 686.5,358.0 696.7,363.6 707.0,379.2 717.3,360.1 727.5,368.0 737.8,380.1 748.0,384.7 758.3,388.5 768.6,389.7 778.8,397.5 789.1,391.9 799.4,391.6 809.6,381.6" stroke="#1177cc" stroke-width="1"/>
<polyline points="163.0,216.1 173.3,223.4 183.5,222.9 193.8,253.1 204.1,264.6 214.3,288.8 224.6,290.8 234.8,286.2 245.1,287.1 255.4,278.0 265.6,277.5 275.9,271.5 286.2,297.4 296.4,276.9 306.7,304.0 317.0,310.5 327.2,292.7 337.5,295.1 347.8,300.4 358.0,286.7 368.3,281.2 378.5,273.7 388.8,266.9 399.1,297.6 409.3,298.8 419.6,283.1 429.9,295.0 440.1,308.1 450.4,305.2 460.7,320.2 470.9,310.0 481.2,316.6 491.4,320.8 501.7,312.6 512.0,313.0 522.2,313.0 532.5,320.7 542.8,299.8 553.0,332.8 563.3,307.6 573.6,324.8 583.8,300.1 594.1,300.1 604.4,289.1 614.6,244.6 624.9,284.0 635.1,264.5 645.4,298.8 655.7,335.0 665.9,379.1 676.2,373.9 686.5,396.9 696.7,376.1 707.0,382.7 717.3,384.6 727.5,399.4 737.8,390.0 748.0,396.4 758.3,401.2 768.6,410.3 778.8,403.8 789.1,431.7 799.4,417.1 809.6,434.9" stroke="#11aacc" stroke-width="1"/>
<polyline points="163.0,213.4 173.3,218.5 183.5,229.3 193.8,255.2 204.1,264.3 214.3,291.2 224.6,290.2 234.8,302.6 245.1,283.9 255.4,281.4 265.6,286.9 275.9,293.0 286.2,283.8 296.4,294.5 306.7,295.6 317.0,313.9 327.2,314.3 337.5,297.4 347.8,317.7 358.0,292.7 368.3,289.4 378.5,276.6 388.8,275.1 399.1,275.2 409.3,287.8 419.6,282.5 429.9,286.4 440.1,287.5 450.4,300.5 460.7,286.5 470.9,296.3 481.2,291.0 491.4,295.4 501.7,295.1 512.0,284.0 522.2,303.3 532.5,281.0 542.8,281.9 553.0,283.8 563.3,272.6 573.6,282.4 583.8,279.7 594.1,277.4 604.4,293.1 614.6,279.6 624.9,295.8 635.1,274.6 645.4,317.6 655.7,312.4 665.9,332.9 676.2,316.2 686.5,309.4 696.7,289.1 707.0,281.5 717.3,264.4 727.5,261.3 737.8,270.3 748.0,290.9 758.3,282.6 768.6,282.6 778.8,284.2 789.1,285.0 799.4,297.4 809.6,303.2" stroke="#11aabb" stroke-width="1"/>
<polyline points="163.0,215.9 173.3,217.1 183.5,223.3 193.8,252.0 204.1,258.6 214.3,275.0 224.6,263.6 234.8,268.2 245.1,265.0 255.4,251.6 265.6,276.1 275.9,246.4 286.2,261.6 296.4,261.1 306.7,259.2 317.0,278.9 327.2,287.0 337.5,283.7 347.8,281.5 358.0,272.1 368.3,266.6 378.5,245.5 388.8,248.5 399.1,250.0 409.3,257.5 419.6,252.7 429.9,271.4 440.1,265.9 450.4,282.3 460.7,288.2 470.9,285.2 481.2,286.1 491.4,292.2 501.7,280.1 512.0,282.0 522.2,284.8 532.5,281.2 542.8,286.8 553.0,286.4 563.3,293.5 573.6,320.4 583.8,311.2 594.1,332.3 604.4,315.9 614.6,318.7 624.9,325.5 635.1,333.1 645.4,332.0 655.7,361.9 665.9,360.5 676.2,380.6 686.5,380.5 696.7,385.3 707.0,377.8 717.3,386.9 727.5,379.1 737.8,369.5 748.0,385.9 758.3,382.2 768.6,394.5 778.8,390.5 789.1,394.4 799.4,393.5 809.6,386.4" stroke="#11aa88" stroke-width="1"/>
<polyline points="163.0,215.1 173.3,217.2 183.5,223.4 193.8,237.6 204.1,258.8 214.3,271.9 224.6,288.5 234.8,276.1 245.1,269.7 255.4,266.0 265.6,269.6 275.9,273.7 286.2,268.6 296.4,276.6 306.7,277.6 317.0,273.8 327.2,280.3 337.5,299.1 347.8,289.7 358.0,296.8 368.3,288.9 378.5,279.6 388.8,280.5 399.1,270.2 409.3,284.8 419.6,268.0 429.9,275.0 440.1,289.2 450.4,299.3 460.7,276.4 470.9,284.3 481.2,290.5 491.4,291.4 501.7,303.9 512.0,301.9 522.2,295.2 532.5,302.5 542.8,312.0 553.0,314.2 563.3,339.4 573.6,316.9 583.8,327.1 594.1,313.0 604.4,324.0 614.6,339.3 624.9,335.8 635.1,355.3 645.4,362.5 655.7,363.4 665.9,363.5 676.2,356.9 686.5,364.1 696.7,368.1 707.0,367.0 717.3,376.1 727.5,379.4 737.8,360.7 748.0,358.4 758.3,359.9 768.6,382.5 778.8,371.3 789.1,375.7 799.4,363.0 809.6,399.4" stroke="#11aa66" stroke-width="1"/>
<polyline points="163.0,216.1 173.3,217.6 183.5,224.9 193.8,250.2 204.1,260.2 214.3,281.4 224.6,283.1 234.8,279.7 245.1,266.4 255.4,271.8 265.6,279.6 275.9,272.6 286.2,281.2 296.4,277.3 306.7,293.4 317.0,292.4 327.2,297.8 337.5,302.7 347.8,290.0 358.0,276.6 368.3,247.7 378.5,263.8 388.8,260.6 399.1,261.9 409.3,257.8 419.6,247.9 429.9,253.6 440.1,257.4 450.4,248.4 460.7,266.0 470.9,257.0 481.2,267.4 491.4,273.7 501.7,283.1 512.0,287.9 522.2,296.3 532.5,273.1 542.8,297.7 553.0,304.1 563.3,275.0 573.6,284.0 583.8,290.8 594.1,300.5 604.4,296.0 614.6,276.7 624.9,269.1 635.1,255.0 645.4,259.7 655.7,264.4 665.9,267.9 676.2,290.3 686.5,303.6 696.7,318.2 707.0,332.7 717.3,331.4 727.5,312.4 737.8,355.4 748.0,333.4 758.3,344.2 768.6,342.5 778.8,333.3 789.1,331.2 799.4,353.6 809.6,338.1" stroke="#11aa44" stroke-width="1"/>
<polyline points="163.0,216.5 173.3,218.4 183.5,223.3 193.8,252.0 204.1,261.3 214.3,284.1 224.6,282.0 234.8,279.7 245.1,286.5 255.4,258.9 265.6,276.8 275.9,284.0 286.2,278.7 296.4,255.5 306.7,264.0 317.0,274.0 327.2,278.1 337.5,270.6 347.8,268.6 358.0,250.8 368.3,242.0 378.5,231.0 388.8,225.4 399.1,250.8 409.3,253.8 419.6,248.6 429.9,275.4 440.1,273.9 450.4,278.7 460.7,273.0 470.9,262.2 481.2,258.5 491.4,282.8 501.7,288.9 512.0,288.0 522.2,284.2 532.5,292.0 542.8,306.9 553.0,290.1 563.3,299.3 573.6,294.8 583.8,316.5 594.1,310.0 604.4,317.9 614.6,324.6 624.9,323.8 635.1,345.6 645.4,335.8 655.7,306.9 665.9,316.7 676.2,328.4 686.5,359.4 696.7,349.1 707.0,370.3 717.3,342.2 727.5,325.1 737.8,324.3 748.0,320.1 758.3,340.5 768.6,345.6 778.8,349.8 789.1,339.7 799.4,350.8 809.6,350.6" stroke="#11bb22" stroke-width="1"/>
<polyline points="163.0,215.8 173.3,220.6 183.5,220.0 193.8,250.2 204.1,268.8 214.3,272.2 224.6,284.8 234.8,281.5 245.1,272.1 255.4,253.2 265.6,266.1 275.9,273.6 286.2,284.2 296.4,272.9 306.7,296.2 317.0,284.9 327.2,295.4 337.5,288.2 347.8,282.5 358.0,272.1 368.3,269.9 378.5,261.6 388.8,254.8 399.1,260.4 409.3,266.4 419.6,266.8 429.9,261.1 440.1,266.2 450.4,266.7 460.7,257.0 470.9,271.5 481.2,273.6 491.4,269.5 501.7,287.7 512.0,274.1 522.2,281.0 532.5,288.1 542.8,298.5 553.0,284.5 563.3,287.2 573.6,307.2 583.8,324.4 594.1,322.1 604.4,319.4 614.6,338.7 624.9,353.6 635.1,339.0 645.4,336.2 655.7,379.4 665.9,363.6 676.2,389.6 686.5,390.9 696.7,384.5 707.0,389.2 717.3,384.7 727.5,370.2 737.8,373.7 748.0,375.0 758.3,355.6 768.6,348.2 778.8,333.1 789.1,345.5 799.4,359.9 809.6,365.2" stroke="#11cc11" stroke-width="1"/>
<polyline points="163.0,217.2 173.3,216.2 183.5,220.0 193.8,246.5 204.1,270.7 214.3,283.8 224.6,288.5 234.8,288.5 245.1,275.1 255.4,282.6 265.6,279.6 275.9,278.7 286.2,282.8 296.4,278.9 306.7,284.4 317.0,289.2 327.2,287.9 337.5,310.6 347.8,296.1 358.0,283.8 368.3,281.6 378.5,295.6 388.8,298.2 399.1,290.6 409.3,287.2 419.6,282.3 429.9,289.0 440.1,291.3 450.4,286.4 460.7,277.5 470.9,267.4 481.2,262.0 491.4,251.4 501.7,241.2 512.0,250.2 522.2,255.3 532.5,275.3 542.8,291.7 553.0,301.0 563.3,307.7 573.6,319.4 583.8,332.0 594.1,329.9 604.4,315.6 614.6,330.6 624.9,332.6 635.1,345.7 645.4,346.0 655.7,357.1 665.9,356.3 676.2,363.7 686.5,393.6 696.7,412.3 707.0,415.5 717.3,426.6 727.5,409.5 737.8,398.9 748.0,406.8 758.3,387.4 768.6,398.1 778.8,398.0 789.1,393.3 799.4,406.4 809.6,401.8" stroke="#ccbb11" stroke-width="1"/>
<polyline points="163.0,217.0 173.3,224.7 183.5,231.5 193.8,251.7 204.1,274.9 214.3,282.8 224.6,300.8 234.8,284.4 245.1,286.0 255.4,277.7 265.6,275.9 275.9,285.8 286.2,275.7 296.4,291.2 306.7,298.7 317.0,299.3 327.2,296.7 337.5,283.7 347.8,287.4 358.0,287.2 368.3,275.8 378.5,273.5 388.8,285.7 399.1,289.4 409.3,284.5 419.6,287.6 429.9,285.1 440.1,304.6 450.4,322.2 460.7,316.0 470.9,329.3 481.2,321.8 491.4,322.9 501.7,311.5 512.0,306.9 522.2,321.2 532.5,311.4 542.8,339.2 553.0,327.4 563.3,324.4 573.6,305.6 583.8,316.0 594.1,311.9 604.4,320.7 614.6,334.8 624.9,344.9 635.1,361.1 645.4,364.3 655.7,374.1 665.9,388.6 676.2,372.2 686.5,370.3 696.7,397.1 707.0,391.1 717.3,399.1 727.5,399.3 737.8,406.9 748.0,410.2 758.3,416.7 768.6,426.8 778.8,417.1 789.1,407.9 799.4,406.0 809.6,395.9" stroke="#cca511" stroke-width="1"/>
<polyline points="163.0,216.4 173.3,221.3 183.5,226.8 193.8,255.0 204.1,274.6 214.3,300.6 224.6,309.2 234.8,316.3 245.1,307.3 255.4,287.3 265.6,267.6 275.9,297.8 286.2,282.7 296.4,319.1 306.7,323.1 317.0,321.4 327.2,314.7 337.5,327.7 347.8,328.7 358.0,310.0 368.3,299.7 378.5,306.9 388.8,312.5 399.1,310.7 409.3,322.5 419.6,316.0 429.9,323.3 440.1,315.1 450.4,304.4 460.7,305.1 470.9,312.6 481.2,329.6 491.4,324.2 501.7,335.4 512.0,338.6 522.2,341.3 532.5,340.7 542.8,341.5 553.0,349.6 563.3,341.4 573.6,357.9 583.8,350.7 594.1,353.4 604.4,364.0 614.6,374.8 624.9,368.5 635.1,386.9 645.4,392.5 655.7,385.6 665.9,370.2 676.2,376.4 686.5,371.4 696.7,374.2 707.0,363.1 717.3,382.7 727.5,390.4 737.8,403.2 748.0,389.2 758.3,422.4 768.6,412.1 778.8,401.1 789.1,408.5 799.4,409.0 809.6,399.9" stroke="#cc9911" stroke-width="1"/>
<polyline points="163.0,211.8 173.3,218.2 183.5,222.8 193.8,250.9 204.1,252.5 214.3,280.0 224.6,287.9 234.8,279.4 245.1,284.5 255.4,262.1 265.6,272.3 275.9,273.1 286.2,265.9 296.4,275.8 306.7,268.9 317.0,277.0 327.2,307.0 337.5,294.8 347.8,284.8 358.0,285.5 368.3,286.2 378.5,262.0 388.8,257.0 399.1,265.4 409.3,254.8 419.6,267.6 429.9,270.2 440.1,252.5 450.4,260.7 460.7,262.4 470.9,263.3 481.2,266.0 491.4,287.4 501.7,297.0 512.0,296.1 522.2,278.4 532.5,296.8 542.8,310.0 553.0,301.2 563.3,292.3 573.6,290.1 583.8,293.6 594.1,286.6 604.4,286.2 614.6,277.3 624.9,247.4 635.1,247.4 645.4,271.0 655.7,289.8 665.9,314.9 676.2,328.6 686.5,361.7 696.7,373.9 707.0,368.3 717.3,353.5 727.5,362.1 737.8,382.8 748.0,376.0 758.3,383.6 768.6,391.0 778.8,368.8 789.1,379.7 799.4,388.7 809.6,361.3" stroke="#cc8811" stroke-width="1"/>
<polyline points="163.0,216.3 173.3,214.5 183.5,227.2 193.8,258.8 204.1,262.8 214.3,286.7 224.6,291.7 234.8,263.1 245.1,255.7 255.4,257.1 265.6,252.6 275.9,248.2 286.2,264.8 296.4,267.9 306.7,288.5 317.0,277.7 327.2,300.4 337.5,284.9 347.8,283.0 358.0,286.1 368.3,267.7 378.5,263.4 388.8,261.3 399.1,257.9 409.3,263.0 419.6,278.3 429.9,280.2 440.1,288.1 450.4,289.8 460.7,284.4 470.9,298.0 481.2,285.4 491.4,308.1 501.7,309.2 512.0,295.5 522.2,285.7 532.5,309.2 542.8,310.2 553.0,329.5 563.3,321.0 573.6,336.4 583.8,343.9 594.1,331.8 604.4,338.7 614.6,342.5 624.9,333.6 635.1,339.1 645.4,323.0 655.7,349.3 665.9,361.4 676.2,362.9 686.5,360.2 696.7,370.9 707.0,384.0 717.3,370.0 727.5,399.8 737.8,390.2 748.0,393.7 758.3,393.4 768.6,364.5 778.8,344.7 789.1,346.0 799.4,354.9 809.6,363.9" stroke="#cc7711" stroke-width="1"/>
<polyline points="163.0,215.3 173.3,216.4 183.5,225.2 193.8,262.4 204.1,269.4 214.3,296.0 224.6,287.4 234.8,276.2 245.1,273.6 255.4,269.5 265.6,275.0 275.9,246.5 286.2,250.3 296.4,265.0 306.7,274.7 317.0,286.2 327.2,288.4 337.5,308.1 347.8,316.0 358.0,309.6 368.3,285.9 378.5,279.6 388.8,270.0 399.1,267.5 409.3,283.2 419.6,284.3 429.9,277.0 440.1,282.8 450.4,285.5 460.7,309.8 470.9,299.7 481.2,306.5 491.4,310.9 501.7,324.1 512.0,334.5 522.2,323.0 532.5,328.2 542.8,322.5 553.0,316.0 563.3,322.4 573.6,318.7 583.8,319.6 594.1,330.1 604.4,318.3 614.6,312.2 624.9,326.4 635.1,314.3 645.4,327.6 655.7,337.1 665.9,348.7 676.2,351.4 686.5,373.3 696.7,365.3 707.0,343.0 717.3,335.7 727.5,352.9 737.8,347.8 748.0,346.7 758.3,329.5 768.6,350.6 778.8,345.6 789.1,346.6 799.4,340.2 809.6,336.7" stroke="#cc6611" stroke-width="1"/>
<polyline points="163.0,216.8 173.3,218.9 183.5,227.5 193.8,254.2 204.1,261.7 214.3,279.4 224.6,265.7 234.8,272.5 245.1,260.9 255.4,247.5 265.6,248.9 275.9,263.2 286.2,259.9 296.4,255.2 306.7,284.9 317.0,276.9 327.2,282.1 337.5,299.0 347.8,291.3 358.0,277.4 368.3,292.5 378.5,261.1 388.8,256.0 399.1,242.8 409.3,242.4 419.6,246.1 429.9,260.3 440.1,274.7 450.4,286.4 460.7,296.5 470.9,300.5 481.2,292.2 491.4,283.7 501.7,282.1 512.0,291.6 522.2,307.2 532.5,291.8 542.8,298.3 553.0,291.8 563.3,308.4 573.6,300.4 583.8,317.8 594.1,298.1 604.4,308.0 614.6,338.7 624.9,338.7 635.1,339.4 645.4,351.6 655.7,357.3 665.9,371.1 676.2,378.8 686.5,363.9 696.7,324.9 707.0,341.9 717.3,321.1 727.5,345.0 737.8,331.6 748.0,334.9 758.3,314.6 768.6,336.2 778.8,339.9 789.1,327.0 799.4,327.2 809.6,320.9" stroke="#cc5511" stroke-width="1"/>
<polyline points="163.0,214.6 173.3,219.7 183.5,222.0 193.8,243.5 204.1,257.3 214.3,271.8 224.6,278.7 234.8,276.7 245.1,253.3 255.4,248.6 265.6,256.7 275.9,251.5 286.2,250.4 296.4,270.4 306.7,264.8 317.0,260.9 327.2,255.2 337.5,256.0 347.8,261.9 358.0,253.0 368.3,250.8 378.5,250.1 388.8,242.2 399.1,247.1 409.3,245.1 419.6,251.3 429.9,252.8 440.1,248.1 450.4,261.8 460.7,266.3 470.9,257.9 481.2,272.5 491.4,254.3 501.7,255.2 512.0,263.9 522.2,264.6 532.5,264.7 542.8,262.9 553.0,262.5 563.3,255.5 573.6,255.2 583.8,253.4 594.1,256.4 604.4,253.6 614.6,259.7 624.9,267.9 635.1,272.0 645.4,273.8 655.7,273.2 665.9,275.4 676.2,298.3 686.5,300.8 696.7,290.3 707.0,297.7 717.3,299.4 727.5,305.1 737.8,299.7 748.0,309.5 758.3,305.7 768.6,296.2 778.8,297.2 789.1,301.8 799.4,306.2 809.6,313.6" stroke="#bb4422" stroke-width="1"/>
<polyline points="163.0,215.1 173.3,217.4 183.5,225.0 193.8,252.1 204.1,259.4 214.3,280.3 224.6,283.2 234.8,294.5 245.1,276.1 255.4,271.9 265.6,264.8 275.9,284.0 286.2,273.1 296.4,264.8 306.7,299.7 317.0,287.6 327.2,323.1 337.5,310.4 347.8,308.2 358.0,305.9 368.3,293.6 378.5,271.6 388.8,287.0 399.1,268.4 409.3,272.8 419.6,264.6 429.9,262.6 440.1,266.6 450.4,259.2 460.7,265.0 470.9,291.7 481.2,258.8 491.4,262.8 501.7,263.7 512.0,285.6 522.2,276.7 532.5,268.9 542.8,258.6 553.0,284.4 563.3,280.4 573.6,278.0 583.8,259.4 594.1,259.4 604.4,251.2 614.6,248.4 624.9,249.3 635.1,265.3 645.4,272.9 655.7,279.4 665.9,278.5 676.2,279.1 686.5,282.4 696.7,292.7 707.0,319.4 717.3,307.3 727.5,291.4 737.8,296.9 748.0,294.7 758.3,294.6 768.6,319.1 778.8,312.2 789.1,336.8 799.4,332.3 809.6,339.2" stroke="#aa3322" stroke-width="1"/>
<polyline points="163.0,217.4 173.3,217.5 183.5,225.0 193.8,252.3 204.1,267.3 214.3,280.1 224.6,309.8 234.8,280.7 245.1,264.6 255.4,259.2 265.6,264.6 275.9,279.0 286.2,279.1 296.4,259.4 306.7,286.7 317.0,282.5 327.2,293.9 337.5,279.9 347.8,298.1 358.0,272.5 368.3,279.1 378.5,261.3 388.8,284.5 399.1,284.1 409.3,270.2 419.6,275.4 429.9,277.6 440.1,266.7 450.4,287.5 460.7,286.8 470.9,291.2 481.2,310.5 491.4,332.6 501.7,351.5 512.0,363.3 522.2,375.1 532.5,361.0 542.8,341.7 553.0,317.0 563.3,286.4 573.6,303.6 583.8,303.8 594.1,323.7 604.4,310.6 614.6,317.8 624.9,329.1 635.1,330.3 645.4,329.3 655.7,338.8 665.9,351.4 676.2,343.5 686.5,354.5 696.7,353.4 707.0,346.3 717.3,367.8 727.5,344.3 737.8,346.6 748.0,355.8 758.3,361.7 768.6,348.2 778.8,349.9 789.1,333.3 799.4,338.8 809.6,353.5" stroke="#992222" stroke-width="1"/>
<polyline points="163.0,215.4 173.3,220.7 183.5,224.5 193.8,249.6 204.1,268.4 214.3,273.2 224.6,278.6 234.8,267.6 245.1,245.2 255.4,245.4 265.6,255.0 275.9,247.1 286.2,248.1 296.4,249.6 306.7,253.2 317.0,270.6 327.2,263.5 337.5,259.8 347.8,272.1 358.0,260.5 368.3,251.0 378.5,256.4 388.8,266.4 399.1,269.9 409.3,259.8 419.6,270.3 429.9,260.6 440.1,251.5 450.4,251.1 460.7,267.5 470.9,273.5 481.2,276.4 491.4,282.0 501.7,261.9 512.0,292.2 522.2,285.8 532.5,282.6 542.8,282.7 553.0,282.5 563.3,282.0 573.6,303.9 583.8,305.0 594.1,303.4 604.4,309.1 614.6,308.8 624.9,316.2 635.1,315.4 645.4,327.2 655.7,315.6 665.9,333.9 676.2,328.7 686.5,346.6 696.7,363.8 707.0,337.8 717.3,344.5 727.5,334.7 737.8,344.3 748.0,368.5 758.3,383.8 768.6,354.3 778.8,377.1 789.1,389.7 799.4,391.1 809.6,400.6" stroke="#0022cc" stroke-width="1"/>
<polyline points="163.0,216.7 173.3,219.3 183.5,233.1 193.8,253.4 204.1,262.2 214.3,281.4 224.6,289.7 234.8,265.2 245.1,252.6 255.4,275.1 265.6,261.8 275.9,272.4 286.2,272.7 296.4,274.0 306.7,299.0 317.0,305.6 327.2,284.2 337.5,310.9 347.8,307.2 358.0,293.6 368.3,283.4 378.5,274.1 388.8,290.6 399.1,291.4 409.3,280.1 419.6,279.4 429.9,277.6 440.1,294.0 450.4,292.6 460.7,285.5 470.9,292.3 481.2,284.4 491.4,291.1 501.7,300.8 512.0,322.0 522.2,333.9 532.5,326.0 542.8,327.1 553.0,346.5 563.3,328.3 573.6,341.3 583.8,333.2 594.1,328.7 604.4,343.4 614.6,336.8 624.9,339.7 635.1,356.3 645.4,340.7 655.7,382.6 665.9,385.5 676.2,372.2 686.5,373.5 696.7,362.2 707.0,370.7 717.3,387.6 727.5,377.3 737.8,368.6 748.0,372.5 758.3,369.3 768.6,341.3 778.8,342.8 789.1,337.4 799.4,333.8 809.6,355.0" stroke="#1155cc" stroke-width="1"/>
<polyline points="163.0,216.0 173.3,222.7 183.5,228.4 193.8,256.4 204.1,269.7 214.3,288.1 224.6,305.9 234.8,296.9 245.1,278.5 255.4,259.0 265.6,266.6 275.9,276.5 286.2,277.2 296.4,284.0 306.7,306.3 317.0,305.8 327.2,292.0 337.5,294.6 347.8,300.5 358.0,302.8 368.3,271.3 378.5,279.7 388.8,288.3 399.1,285.5 409.3,278.1 419.6,294.2 429.9,304.1 440.1,294.2 450.4,297.3 460.7,298.8 470.9,302.4 481.2,321.4 491.4,314.6 501.7,319.6 512.0,323.3 522.2,308.2 532.5,341.3 542.8,336.9 553.0,333.7 563.3,331.5 573.6,341.3 583.8,330.7 594.1,334.6 604.4,354.5 614.6,363.1 624.9,365.8 635.1,346.2 645.4,357.9 655.7,351.7 665.9,369.1 676.2,378.1 686.5,371.8 696.7,373.6 707.0,371.7 717.3,402.2 727.5,376.6 737.8,371.9 748.0,390.4 758.3,408.1 768.6,384.9 778.8,390.4 789.1,389.0 799.4,415.0 809.6,415.1" stroke="#1177cc" stroke-width="1"/>
<polyline points="163.0,215.2 173.3,222.2 183.5,227.3 193.8,248.1 204.1,263.0 214.3,282.3 224.6,286.4 234.8,287.5 245.1,279.1 255.4,250.1 265.6,286.7 275.9,272.9 286.2,271.9 296.4,249.4 306.7,267.8 317.0,287.9 327.2,294.2 337.5,291.5 347.8,282.3 358.0,296.5 368.3,286.7 378.5,262.3 388.8,270.5 399.1,282.2 409.3,288.0 419.6,296.7 429.9,301.4 440.1,322.8 450.4,320.3 460.7,331.4 470.9,316.2 481.2,320.8 491.4,323.0 501.7,341.5 512.0,336.4 522.2,344.9 532.5,341.4 542.8,344.5 553.0,328.1 563.3,339.2 573.6,339.5 583.8,343.9 594.1,366.2 604.4,367.3 614.6,371.9 624.9,364.5 635.1,369.9 645.4,363.2 655.7,370.8 665.9,358.0 676.2,391.0 686.5,383.9 696.7,386.8 707.0,395.8 717.3,402.6 727.5,403.0 737.8,395.6 748.0,410.0 758.3,395.2 768.6,392.1 778.8,370.9 789.1,389.5 799.4,382.9 809.6,391.3" stroke="#11aacc" stroke-width="1"/>
<polyline points="163.0,215.8 173.3,217.8 183.5,225.4 193.8,241.1 204.1,255.9 214.3,273.8 224.6,286.5 234.8,266.4 245.1,262.3 255.4,264.1 265.6,273.1 275.9,268.4 286.2,279.5 296.4,286.9 306.7,284.3 317.0,278.0 327.2,288.9 337.5,290.0 347.8,297.6 358.0,286.6 368.3,267.7 378.5,295.7 388.8,279.7 399.1,272.8 409.3,274.5 419.6,262.5 429.9,279.2 440.1,292.1 450.4,292.6 460.7,288.1 470.9,305.9 481.2,318.7 491.4,324.7 501.7,314.1 512.0,307.5 522.2,319.1 532.5,325.8 542.8,310.9 553.0,331.2 563.3,322.8 573.6,334.0 583.8,331.2 594.1,356.9 604.4,348.4 614.6,334.2 624.9,322.0 635.1,348.6 645.4,364.6 655.7,375.7 665.9,375.8 676.2,386.6 686.5,405.4 696.7,411.6 707.0,385.0 717.3,381.8 727.5,360.3 737.8,376.1 748.0,365.9 758.3,370.9 768.6,363.8 778.8,389.4 789.1,385.8 799.4,393.1 809.6,387.8" stroke="#11aabb" stroke-width="1"/>
<polyline points="163.0,215.0 173.3,222.4 183.5,226.5 193.8,249.1 204.1,260.8 214.3,276.2 224.6,278.4 234.8,277.3 245.1,259.8 255.4,276.8 265.6,272.0 275.9,258.5 286.2,266.8 296.4,266.3 306.7,275.3 317.0,289.0 327.2,275.3 337.5,273.7 347.8,288.2 358.0,273.9 368.3,267.8 378.5,257.2 388.8,261.5 399.1,253.4 409.3,251.8 419.6,260.9 429.9,253.9 440.1,281.1 450.4,261.6 460.7,248.6 470.9,270.8 481.2,267.8 491.4,275.9 501.7,288.0 512.0,267.4 522.2,272.7 532.5,265.2 542.8,266.9 553.0,290.7 563.3,302.8 573.6,319.5 583.8,316.3 594.1,299.8 604.4,283.8 614.6,289.1 624.9,298.5 635.1,306.8 645.4,307.7 655.7,314.8 665.9,284.7 676.2,283.2 686.5,325.6 696.7,313.8 707.0,289.7 717.3,307.5 727.5,302.9 737.8,290.6 748.0,304.6 758.3,340.5 768.6,309.3 778.8,321.8 789.1,310.3 799.4,329.9 809.6,344.2" stroke="#11aa88" stroke-width="1"/>
<polyline points="163.0,218.2 173.3,218.1 183.5,222.8 193.8,250.8 204.1,270.2 214.3,280.3 224.6,285.1 234.8,280.8 245.1,255.3 255.4,268.5 265.6,264.3 275.9,284.2 286.2,248.0 296.4,255.4 306.7,268.9 317.0,268.2 327.2,278.0 337.5,291.4 347.8,275.9 358.0,264.4 368.3,254.4 378.5,247.0 388.8,258.7 399.1,269.3 409.3,276.1 419.6,274.7 429.9,272.1 440.1,279.3 450.4,277.9 460.7,286.0 470.9,281.9 481.2,296.1 491.4,287.8 501.7,298.7 512.0,308.5 522.2,336.3 532.5,324.0 542.8,337.0 553.0,349.4 563.3,345.2 573.6,341.4 583.8,353.2 594.1,350.4 604.4,364.1 614.6,353.6 624.9,364.6 635.1,369.8 645.4,387.2 655.7,371.7 665.9,386.8 676.2,408.9 686.5,408.3 696.7,416.2 707.0,420.7 717.3,413.7 727.5,405.8 737.8,420.2 748.0,430.7 758.3,437.9 768.6,440.2 778.8,442.2 789.1,437.2 799.4,437.5 809.6,437.5" stroke="#11aa66" stroke-width="1"/>
<polyline points="163.0,215.2 173.3,219.4 183.5,235.3 193.8,252.6 204.1,261.8 214.3,273.1 224.6,287.6 234.8,293.0 245.1,267.4 255.4,269.2 265.6,262.5 275.9,263.5 286.2,273.9 296.4,263.1 306.7,266.1 317.0,280.9 327.2,274.3 337.5,263.2 347.8,267.7 358.0,264.4 368.3,269.1 378.5,261.2 388.8,264.7 399.1,279.1 409.3,282.7 419.6,272.5 429.9,262.8 440.1,285.1 450.4,276.3 460.7,276.4 470.9,276.2 481.2,278.3 491.4,284.1 501.7,284.0 512.0,296.6 522.2,301.1 532.5,295.1 542.8,289.7 553.0,277.4 563.3,267.5 573.6,263.3 583.8,251.6 594.1,259.0 604.4,288.6 614.6,282.5 624.9,277.3 635.1,278.2 645.4,310.4 655.7,308.2 665.9,317.7 676.2,320.1 686.5,306.2 696.7,314.4 707.0,325.4 717.3,337.7 727.5,342.0 737.8,360.7 748.0,380.3 758.3,403.1 768.6,394.5 778.8,399.2 789.1,405.9 799.4,417.8 809.6,395.6" stroke="#11aa44" stroke-width="1"/>
<polyline points="163.0,214.6 173.3,218.0 183.5,227.6 193.8,252.4 204.1,261.9 214.3,280.6 224.6,286.5 234.8,271.9 245.1,271.9 255.4,276.1 265.6,263.8 275.9,253.4 286.2,253.4 296.4,258.3 306.7,279.6 317.0,281.1 327.2,268.3 337.5,277.9 347.8,277.0 358.0,266.7 368.3,274.0 378.5,249.0 388.8,244.7 399.1,252.5 409.3,242.8 419.6,238.6 429.9,253.3 440.1,262.9 450.4,291.3 460.7,304.1 470.9,275.6 481.2,293.6 491.4,274.7 501.7,281.2 512.0,289.3 522.2,294.7 532.5,281.9 542.8,301.4 553.0,286.8 563.3,284.8 573.6,279.8 583.8,276.3 594.1,298.0 604.4,280.5 614.6,282.5 624.9,290.0 635.1,299.7 645.4,292.6 655.7,308.7 665.9,319.8 676.2,311.0 686.5,316.7 696.7,325.2 707.0,345.7 717.3,339.4 727.5,350.7 737.8,349.1 748.0,349.4 758.3,378.2 768.6,368.3 778.8,381.7 789.1,385.7 799.4,375.6 809.6,372.1" stroke="#11bb22" stroke-width="1"/>
<polyline points="163.0,213.7 173.3,221.5 183.5,231.1 193.8,254.3 204.1,277.3 214.3,300.1 224.6,291.0 234.8,310.3 245.1,288.4 255.4,287.3 265.6,293.0 275.9,288.8 286.2,279.4 296.4,285.3 306.7,285.7 317.0,299.9 327.2,293.9 337.5,284.6 347.8,316.5 358.0,289.2 368.3,320.4 378.5,300.1 388.8,284.4 399.1,307.1 409.3,292.1 419.6,309.3 429.9,300.1 440.1,295.0 450.4,309.3 460.7,319.8 470.9,328.4 481.2,315.7 491.4,310.3 501.7,332.8 512.0,351.5 522.2,336.0 532.5,335.8 542.8,335.0 553.0,331.4 563.3,342.3 573.6,345.2 583.8,341.1 594.1,333.3 604.4,334.2 614.6,312.3 624.9,308.5 635.1,318.7 645.4,330.8 655.7,323.7 665.9,342.6 676.2,355.8 686.5,383.6 696.7,367.9 707.0,356.9 717.3,332.0 727.5,347.7 737.8,325.0 748.0,337.2 758.3,350.3 768.6,351.8 778.8,337.3 789.1,330.0 799.4,323.6 809.6,312.1" stroke="#11cc11" stroke-width="1"/>
<polyline points="163.0,219.4 173.3,221.0 183.5,224.2 193.8,253.2 204.1,266.1 214.3,283.9 224.6,287.9 234.8,280.2 245.1,265.6 255.4,254.1 265.6,255.4 275.9,248.2 286.2,252.2 296.4,252.2 306.7,266.7 317.0,282.9 327.2,292.6 337.5,296.6 347.8,303.0 358.0,293.4 368.3,279.7 378.5,265.2 388.8,252.2 399.1,266.7 409.3,286.9 419.6,284.5 429.9,308.9 440.1,300.9 450.4,288.1 460.7,296.1 470.9,297.7 481.2,292.9 491.4,281.6 501.7,278.4 512.0,271.9 522.2,276.7 532.5,273.9 542.8,271.1 553.0,284.8 563.3,302.7 573.6,301.0 583.8,293.7 594.1,297.7 604.4,301.0 614.6,305.8 624.9,312.3 635.1,314.2 645.4,330.9 655.7,347.4 665.9,379.7 676.2,371.6 686.5,354.7 696.7,358.7 707.0,387.7 717.3,375.7 727.5,376.4 737.8,390.4 748.0,401.2 758.3,414.2 768.6,423.8 778.8,426.3 789.1,436.0 799.4,425.5 809.6,423.8" stroke="#0000ff" stroke-width="3.5"/>
<polyline points="163.0,560.0 173.3,560.0 183.5,560.0 193.8,560.0 204.1,560.0 214.3,560.0 224.6,560.0 234.8,560.0 245.1,560.0 255.4,560.0 265.6,560.0 275.9,560.0 286.2,560.0 296.4,560.0 306.7,560.0 317.0,560.0 327.2,560.0 337.5,560.0 347.8,560.0 358.0,560.0 368.3,560.0 378.5,560.0 388.8,560.0 399.1,560.0 409.3,560.0 419.6,560.0 429.9,560.0 440.1,560.0 450.4,560.0 460.7,560.0 470.9,560.0 481.2,560.0 491.4,560.0 501.7,560.0 512.0,560.0 522.2,560.0 532.5,560.0 542.8,560.0 553.0,560.0 563.3,560.0 573.6,560.0 583.8,560.0 594.1,560.0 604.4,556.0 614.6,534.8 624.9,557.4 635.1,560.0 645.4,560.0 655.7,560.0 665.9,560.0 676.2,560.0 686.5,560.0 696.7,560.0 707.0,560.0 717.3,560.0 727.5,560.0 737.8,560.0 748.0,560.0 758.3,560.0 768.6,560.0 778.8,560.0 789.1,560.0 799.4,560.0 809.6,560.0" stroke="#0000ff" stroke-width="3"/>
<polyline points="163.0,215.5 173.3,219.0 183.5,226.1 193.8,251.2 204.1,264.4 214.3,281.5 224.6,287.9 234.8,283.2 245.1,273.2 255.4,267.3 265.6,269.2 275.9,270.9 286.2,272.9 296.4,272.9 306.7,283.7 317.0,288.5 327.2,290.2 337.5,289.7 347.8,291.0 358.0,282.2 368.3,276.5 378.5,270.0 388.8,272.4 399.1,274.0 409.3,274.9 419.6,274.0 429.9,279.1 440.1,282.6 450.4,284.8 460.7,287.2 470.9,289.7 481.2,292.9 491.4,295.4 501.7,297.7 512.0,301.0 522.2,303.4 532.5,303.4 542.8,305.8 553.0,308.2 563.3,307.4 573.6,311.5 583.8,314.7 594.1,317.1 604.4,320.3 614.6,322.8 624.9,326.8 635.1,330.3 645.4,335.3 655.7,340.9 665.9,345.8 676.2,352.2 686.5,358.7 696.7,360.2 707.0,361.1 717.3,361.9 727.5,361.9 737.8,363.3 748.0,366.5 758.3,372.1 768.6,369.8 778.8,369.0 789.1,369.8 799.4,373.1 809.6,373.1" stroke="#f2f2f2" stroke-width="3.3"/>
<polyline points="163.0,560.0 173.3,560.0 183.5,560.0 193.8,560.0 204.1,560.0 214.3,560.0 224.6,560.0 234.8,560.0 245.1,560.0 255.4,560.0 265.6,560.0 275.9,560.0 286.2,560.0 296.4,560.0 306.7,560.0 317.0,560.0 327.2,560.0 337.5,560.0 347.8,560.0 358.0,560.0 368.3,560.0 378.5,560.0 388.8,560.0 399.1,560.0 409.3,560.0 419.6,560.0 429.9,560.0 440.1,560.0 450.4,560.0 460.7,557.4 470.9,546.4 481.2,551.7 491.4,558.7 501.7,557.4 512.0,555.6 522.2,554.3 532.5,551.7 542.8,554.3 553.0,557.4 563.3,557.4 573.6,553.0 583.8,553.0 594.1,553.0 604.4,550.3 614.6,552.0 624.9,555.6 635.1,553.8 645.4,554.8 655.7,555.6 665.9,557.4 676.2,557.4 686.5,555.6 696.7,557.4 707.0,555.6 717.3,553.8 727.5,555.6 737.8,553.8 748.0,554.8 758.3,553.8 768.6,555.6 778.8,554.8 789.1,555.6 799.4,552.0 809.6,554.3" stroke="#f2f2f2" stroke-width="3"/>
<polyline points="163.0,217.1 173.3,220.8 183.5,229.3 193.8,254.7 204.1,266.7 214.3,285.2 224.6,291.5 234.8,288.2 245.1,280.5 255.4,271.6 265.6,272.4 275.9,275.6 286.2,279.7 296.4,280.5 306.7,287.7 317.0,291.8 327.2,287.7 337.5,278.9 347.8,278.0 358.0,278.0 368.3,274.9 378.5,269.2 388.8,266.7 399.1,262.7 409.3,269.2 419.6,265.9 429.9,267.3 440.1,272.2 450.4,278.4 460.7,285.6 470.9,301.0 481.2,298.5 491.4,296.1 501.7,293.7 512.0,280.9 522.2,288.9 532.5,290.5 542.8,301.0 553.0,252.6 563.3,292.9 573.6,297.7 583.8,286.5 594.1,292.1 604.4,279.2 614.6,284.8 624.9,276.7 635.1,269.4 645.4,262.0 655.7,266.9 665.9,274.2 676.2,296.8 686.5,309.7 696.7,300.9 707.0,304.0 717.3,318.6 727.5,310.3 737.8,309.8 748.0,302.7 758.3,298.7 768.6,281.0 778.8,283.5 789.1,277.7 799.4,281.8 809.6,294.6" stroke="#00dd00" stroke-width="3.5"/>
<polyline points="163.0,560.0 173.3,560.0 183.5,560.0 193.8,560.0 204.1,560.0 214.3,560.0 224.6,560.0 234.8,560.0 245.1,560.0 255.4,560.0 265.6,560.0 275.9,560.0 286.2,560.0 296.4,560.0 306.7,560.0 317.0,560.0 327.2,560.0 337.5,560.0 347.8,560.0 358.0,560.0 368.3,560.0 378.5,560.0 388.8,560.0 399.1,560.0 409.3,560.0 419.6,560.0 429.9,560.0 440.1,560.0 450.4,560.0 460.7,560.0 470.9,560.0 481.2,560.0 491.4,560.0 501.7,560.0 512.0,560.0 522.2,560.0 532.5,560.0 542.8,560.0 553.0,560.0 563.3,560.0 573.6,560.0 583.8,560.0 594.1,560.0 604.4,560.0 614.6,560.0 624.9,560.0 635.1,560.0 645.4,560.0 655.7,560.0 665.9,560.0 676.2,509.0 686.5,498.4 696.7,557.4 707.0,560.0 717.3,560.0 727.5,560.0 737.8,541.1 748.0,560.0 758.3,560.0 768.6,560.0 778.8,560.0 789.1,560.0 799.4,560.0 809.6,553.4" stroke="#00dd00" stroke-width="3"/>
<polyline points="163.0,354.7 173.3,350.9 183.5,347.4 193.8,343.5 204.1,340.0 214.3,337.0 224.6,336.2 234.8,336.2 245.1,339.0 255.4,340.0 265.6,346.5 275.9,344.1 286.2,341.2 296.4,345.1 306.7,345.6 317.0,348.5 327.2,342.9 337.5,343.5 347.8,343.5 358.0,342.9 368.3,346.5 378.5,347.4 388.8,349.4 399.1,351.8 409.3,355.3 419.6,352.9 429.9,355.9 440.1,357.4 450.4,355.3 460.7,350.9 470.9,348.0 481.2,348.5 491.4,348.5 501.7,348.5 512.0,348.5 522.2,345.1 532.5,344.5 542.8,346.5 553.0,347.1 563.3,346.5 573.6,348.8 583.8,347.1 594.1,348.0 604.4,352.4 614.6,357.7 624.9,355.3 635.1,354.2 645.4,350.8 655.7,347.4 665.9,339.4 676.2,340.9 686.5,336.6 696.7,334.1 707.0,331.4 717.3,328.6 727.5,331.7 737.8,330.3 748.0,334.2 758.3,339.0 768.6,339.8 778.8,342.3 789.1,343.9 799.4,343.9 809.6,349.5" stroke="#e84848" stroke-width="3.5"/>
</g>
<rect x="163.5" y="30.5" width="647" height="530" fill="none" stroke="#dddddd" stroke-width="1"/>
<path d="M807,547.5H810 M805,534.5H810 M807,520.5H810 M805,507.5H810 M807,494.5H810 M805,480.5H810 M807,467.5H810 M805,454.5H810 M807,441.5H810 M805,428.5H810 M807,414.5H810 M805,401.5H810 M807,388.5H810 M805,374.5H810 M807,361.5H810 M805,348.5H810 M807,335.5H810 M805,322.5H810 M807,308.5H810 M805,295.5H810 M807,282.5H810 M805,268.5H810 M807,255.5H810 M805,242.5H810 M807,229.5H810 M805,216.5H810 M807,202.5H810 M805,189.5H810 M807,176.5H810 M805,162.5H810 M807,149.5H810 M805,136.5H810 M807,123.5H810 M805,110.5H810 M807,96.5H810 M805,83.5H810 M807,70.5H810 M805,56.5H810 M807,43.5H810" stroke="#dddddd" stroke-width="1"/>
<g fill="#f0f0f0" style="white-space:pre">
<g font-size="11.10" opacity="0.995">
<text x="140.64" y="32.50" textLength="13.36" lengthAdjust="spacingAndGlyphs">25</text>
</g>
<g font-size="11.10" opacity="0.995">
<text x="140.64" y="91.39" textLength="13.36" lengthAdjust="spacingAndGlyphs">20</text>
</g>
<g font-size="11.10" opacity="0.995">
<text x="140.64" y="150.28" textLength="13.36" lengthAdjust="spacingAndGlyphs">15</text>
</g>
<g font-size="11.10" opacity="0.995">
<text x="140.64" y="209.17" textLength="13.36" lengthAdjust="spacingAndGlyphs">10</text>
</g>
<g font-size="11.10" opacity="0.995">
<text x="147.32" y="268.06" textLength="6.68" lengthAdjust="spacingAndGlyphs">5</text>
</g>
<g font-size="11.10" opacity="0.995">
<text x="147.32" y="326.94" textLength="6.68" lengthAdjust="spacingAndGlyphs">0</text>
</g>
<g font-size="11.10" opacity="0.995">
<text x="143.53" y="385.83" textLength="10.47" lengthAdjust="spacingAndGlyphs">-5</text>
</g>
<g font-size="11.10" opacity="0.995">
<text x="136.85" y="444.72" textLength="17.15" lengthAdjust="spacingAndGlyphs">-10</text>
</g>
<g font-size="11.10" opacity="0.995">
<text x="136.85" y="503.61" textLength="17.15" lengthAdjust="spacingAndGlyphs">-15</text>
</g>
<g font-size="11.10" opacity="0.995">
<text x="136.85" y="562.50" textLength="17.15" lengthAdjust="spacingAndGlyphs">-20</text>
</g>
<g font-size="11.10" opacity="0.995">
<text x="817.00" y="32.50" textLength="13.36" lengthAdjust="spacingAndGlyphs">40</text>
</g>
<g font-size="11.10" opacity="0.995">
<text x="817.00" y="165.00" textLength="13.36" lengthAdjust="spacingAndGlyphs">30</text>
</g>
<g font-size="11.10" opacity="0.995">
<text x="817.00" y="297.50" textLength="13.36" lengthAdjust="spacingAndGlyphs">20</text>
</g>
<g font-size="11.10" opacity="0.995">
<text x="817.00" y="430.00" textLength="13.36" lengthAdjust="spacingAndGlyphs">10</text>
</g>
<g font-size="11.10" opacity="0.995">
<text x="817.00" y="562.50" textLength="6.68" lengthAdjust="spacingAndGlyphs">0</text>
</g>
<g font-size="11.10" opacity="0.995">
<text x="135.06" y="577.00" textLength="33.68" lengthAdjust="spacingAndGlyphs">10Dec</text>
<text x="172.07" y="577.00" textLength="18.87" lengthAdjust="spacingAndGlyphs">12z</text>
</g>
<g font-size="11.10" opacity="0.995">
<text x="217.17" y="577.00" textLength="33.68" lengthAdjust="spacingAndGlyphs">12Dec</text>
<text x="254.18" y="577.00" textLength="18.87" lengthAdjust="spacingAndGlyphs">12z</text>
</g>
<g font-size="11.10" opacity="0.995">
<text x="299.28" y="577.00" textLength="33.68" lengthAdjust="spacingAndGlyphs">14Dec</text>
<text x="336.30" y="577.00" textLength="18.87" lengthAdjust="spacingAndGlyphs">12z</text>
</g>
<g font-size="11.10" opacity="0.995">
<text x="381.39" y="577.00" textLength="33.68" lengthAdjust="spacingAndGlyphs">16Dec</text>
<text x="418.41" y="577.00" textLength="18.87" lengthAdjust="spacingAndGlyphs">12z</text>
</g>
<g font-size="11.10" opacity="0.995">
<text x="463.50" y="577.00" textLength="33.68" lengthAdjust="spacingAndGlyphs">18Dec</text>
<text x="500.52" y="577.00" textLength="18.87" lengthAdjust="spacingAndGlyphs">12z</text>
</g>
<g font-size="11.10" opacity="0.995">
<text x="545.62" y="577.00" textLength="33.68" lengthAdjust="spacingAndGlyphs">20Dec</text>
<text x="582.63" y="577.00" textLength="18.87" lengthAdjust="spacingAndGlyphs">12z</text>
</g>
<g font-size="11.10" opacity="0.995">
<text x="627.73" y="577.00" textLength="33.68" lengthAdjust="spacingAndGlyphs">22Dec</text>
<text x="664.74" y="577.00" textLength="18.87" lengthAdjust="spacingAndGlyphs">12z</text>
</g>
<g font-size="11.10" opacity="0.995">
<text x="709.84" y="577.00" textLength="33.68" lengthAdjust="spacingAndGlyphs">24Dec</text>
<text x="746.86" y="577.00" textLength="18.87" lengthAdjust="spacingAndGlyphs">12z</text>
</g>
<g font-size="11.10" opacity="0.995">
<text x="457.00" y="593.00" textLength="25.10" lengthAdjust="spacingAndGlyphs">Date</text>
<text x="485.43" y="593.00" textLength="29.01" lengthAdjust="spacingAndGlyphs">(UTC)</text>
</g>
<g transform="translate(134.3,296) rotate(-90)">
<g font-size="11.10" opacity="0.995">
<text x="-50.55" y="0.00" textLength="20.04" lengthAdjust="spacingAndGlyphs">850</text>
<text x="-27.17" y="0.00" textLength="18.95" lengthAdjust="spacingAndGlyphs">hPa</text>
<text x="-4.88" y="0.00" textLength="31.32" lengthAdjust="spacingAndGlyphs">Temp.</text>
<text x="29.77" y="0.00" textLength="20.78" lengthAdjust="spacingAndGlyphs">(°C)</text>
</g>
</g>
<g transform="translate(842.3,297) rotate(-90)">
<g font-size="11.10" opacity="0.995">
<text x="-50.29" y="0.00" textLength="68.59" lengthAdjust="spacingAndGlyphs">Niederschlag</text>
<text x="21.64" y="0.00" textLength="28.65" lengthAdjust="spacingAndGlyphs">(mm)</text>
</g>
</g>
<rect x="-3" y="40.0" width="11" height="2" fill="#0022cc"/>
<g font-size="11.10" opacity="0.995">
<text x="8.00" y="43.50" textLength="13.01" lengthAdjust="spacingAndGlyphs">P1</text>
</g>
<rect x="53" y="40.0" width="11" height="2" fill="#1155cc"/>
<g font-size="11.10" opacity="0.995">
<text x="64.00" y="43.50" textLength="13.01" lengthAdjust="spacingAndGlyphs">P2</text>
</g>
<rect x="-3" y="55.0" width="11" height="2" fill="#1177cc"/>
<g font-size="11.10" opacity="0.995">
<text x="8.00" y="58.50" textLength="13.01" lengthAdjust="spacingAndGlyphs">P3</text>
</g>
<rect x="53" y="55.0" width="11" height="2" fill="#11aacc"/>
<g font-size="11.10" opacity="0.995">
<text x="64.00" y="58.50" textLength="13.01" lengthAdjust="spacingAndGlyphs">P4</text>
</g>
<rect x="-3" y="70.0" width="11" height="2" fill="#11aabb"/>
<g font-size="11.10" opacity="0.995">
<text x="8.00" y="73.50" textLength="13.01" lengthAdjust="spacingAndGlyphs">P5</text>
</g>
<rect x="53" y="70.0" width="11" height="2" fill="#11aa88"/>
<g font-size="11.10" opacity="0.995">
<text x="64.00" y="73.50" textLength="13.01" lengthAdjust="spacingAndGlyphs">P6</text>
</g>
<rect x="-3" y="85.0" width="11" height="2" fill="#11aa66"/>
<g font-size="11.10" opacity="0.995">
<text x="8.00" y="88.50" textLength="13.01" lengthAdjust="spacingAndGlyphs">P7</text>
</g>
<rect x="53" y="85.0" width="11" height="2" fill="#11aa44"/>
<g font-size="11.10" opacity="0.995">
<text x="64.00" y="88.50" textLength="13.01" lengthAdjust="spacingAndGlyphs">P8</text>
</g>
<rect x="-3" y="100.0" width="11" height="2" fill="#11bb22"/>
<g font-size="11.10" opacity="0.995">
<text x="8.00" y="103.50" textLength="13.01" lengthAdjust="spacingAndGlyphs">P9</text>
</g>
<rect x="53" y="100.0" width="11" height="2" fill="#11cc11"/>
<g font-size="11.10" opacity="0.995">
<text x="64.00" y="103.50" textLength="19.69" lengthAdjust="spacingAndGlyphs">P10</text>
</g>
<rect x="-3" y="115.0" width="11" height="2" fill="#ccbb11"/>
<g font-size="11.10" opacity="0.995">
<text x="8.00" y="118.50" textLength="19.69" lengthAdjust="spacingAndGlyphs">P11</text>
</g>
<rect x="53" y="115.0" width="11" height="2" fill="#cca511"/>
<g font-size="11.10" opacity="0.995">
<text x="64.00" y="118.50" textLength="19.69" lengthAdjust="spacingAndGlyphs">P12</text>
</g>
<rect x="-3" y="130.0" width="11" height="2" fill="#cc9911"/>
<g font-size="11.10" opacity="0.995">
<text x="8.00" y="133.50" textLength="19.69" lengthAdjust="spacingAndGlyphs">P13</text>
</g>
<rect x="53" y="130.0" width="11" height="2" fill="#cc8811"/>
<g font-size="11.10" opacity="0.995">
<text x="64.00" y="133.50" textLength="19.69" lengthAdjust="spacingAndGlyphs">P14</text>
</g>
<rect x="-3" y="145.0" width="11" height="2" fill="#cc7711"/>
<g font-size="11.10" opacity="0.995">
<text x="8.00" y="148.50" textLength="19.69" lengthAdjust="spacingAndGlyphs">P15</text>
</g>
<rect x="53" y="145.0" width="11" height="2" fill="#cc6611"/>
<g font-size="11.10" opacity="0.995">
<text x="64.00" y="148.50" textLength="19.69" lengthAdjust="spacingAndGlyphs">P16</text>
</g>
<rect x="-3" y="160.0" width="11" height="2" fill="#cc5511"/>
<g font-size="11.10" opacity="0.995">
<text x="8.00" y="163.50" textLength="19.69" lengthAdjust="spacingAndGlyphs">P17</text>
</g>
<rect x="53" y="160.0" width="11" height="2" fill="#bb4422"/>
<g font-size="11.10" opacity="0.995">
<text x="64.00" y="163.50" textLength="19.69" lengthAdjust="spacingAndGlyphs">P18</text>
</g>
<rect x="-3" y="175.0" width="11" height="2" fill="#aa3322"/>
<g font-size="11.10" opacity="0.995">
<text x="8.00" y="178.50" textLength="19.69" lengthAdjust="spacingAndGlyphs">P19</text>
</g>
<rect x="53" y="175.0" width="11" height="2" fill="#992222"/>
<g font-size="11.10" opacity="0.995">
<text x="64.00" y="178.50" textLength="19.69" lengthAdjust="spacingAndGlyphs">P20</text>
</g>
<rect x="-3" y="190.0" width="11" height="2" fill="#0022cc"/>
<g font-size="11.10" opacity="0.995">
<text x="8.00" y="193.50" textLength="19.69" lengthAdjust="spacingAndGlyphs">P21</text>
</g>
<rect x="53" y="190.0" width="11" height="2" fill="#1155cc"/>
<g font-size="11.10" opacity="0.995">
<text x="64.00" y="193.50" textLength="19.69" lengthAdjust="spacingAndGlyphs">P22</text>
</g>
<rect x="-3" y="205.0" width="11" height="2" fill="#1177cc"/>
<g font-size="11.10" opacity="0.995">
<text x="8.00" y="208.50" textLength="19.69" lengthAdjust="spacingAndGlyphs">P23</text>
</g>
<rect x="53" y="205.0" width="11" height="2" fill="#11aacc"/>
<g font-size="11.10" opacity="0.995">
<text x="64.00" y="208.50" textLength="19.69" lengthAdjust="spacingAndGlyphs">P24</text>
</g>
<rect x="-3" y="220.0" width="11" height="2" fill="#11aabb"/>
<g font-size="11.10" opacity="0.995">
<text x="8.00" y="223.50" textLength="19.69" lengthAdjust="spacingAndGlyphs">P25</text>
</g>
<rect x="53" y="220.0" width="11" height="2" fill="#11aa88"/>
<g font-size="11.10" opacity="0.995">
<text x="64.00" y="223.50" textLength="19.69" lengthAdjust="spacingAndGlyphs">P26</text>
</g>
<rect x="-3" y="235.0" width="11" height="2" fill="#11aa66"/>
<g font-size="11.10" opacity="0.995">
<text x="8.00" y="238.50" textLength="19.69" lengthAdjust="spacingAndGlyphs">P27</text>
</g>
<rect x="53" y="235.0" width="11" height="2" fill="#11aa44"/>
<g font-size="11.10" opacity="0.995">
<text x="64.00" y="238.50" textLength="19.69" lengthAdjust="spacingAndGlyphs">P28</text>
</g>
<rect x="-3" y="250.0" width="11" height="2" fill="#11bb22"/>
<g font-size="11.10" opacity="0.995">
<text x="8.00" y="253.50" textLength="19.69" lengthAdjust="spacingAndGlyphs">P29</text>
</g>
<rect x="53" y="250.0" width="11" height="2" fill="#11cc11"/>
<g font-size="11.10" opacity="0.995">
<text x="64.00" y="253.50" textLength="19.69" lengthAdjust="spacingAndGlyphs">P30</text>
</g>
<rect x="-3" y="265.5" width="11" height="3" fill="#0000ff"/>
<g font-size="11.10" opacity="0.995">
<text x="8.00" y="269.00" textLength="37.95" lengthAdjust="spacingAndGlyphs">Control</text>
</g>
<rect x="53" y="265.5" width="11" height="3" fill="#ffffff"/>
<g font-size="11.10" opacity="0.995">
<text x="64.00" y="269.00" textLength="22.10" lengthAdjust="spacingAndGlyphs">Ens.</text>
<text x="89.43" y="269.00" textLength="29.78" lengthAdjust="spacingAndGlyphs">mean</text>
</g>
<rect x="53" y="291.5" width="11" height="3" fill="#ee4444"/>
<g font-size="11.10" opacity="0.995">
<text x="64.00" y="297.00" textLength="57.23" lengthAdjust="spacingAndGlyphs">1991-2020</text>
</g>
<g font-size="11.10" opacity="0.995">
<text x="64.00" y="307.00" textLength="29.78" lengthAdjust="spacingAndGlyphs">mean</text>
</g>
<rect x="-3" y="306" width="11" height="2" fill="#00dd00"/>
<g font-size="11.10" opacity="0.995">
<text x="8.00" y="308.80" textLength="25.71" lengthAdjust="spacingAndGlyphs">Oper</text>
</g>
</g>
<g font-size="17.00" font-weight="bold" fill="#ffffff" opacity="0.995">
<text x="119.80" y="17.00" textLength="85.58" lengthAdjust="spacingAndGlyphs">Budapest</text>
<text x="216.55" y="17.00" textLength="41.14" lengthAdjust="spacingAndGlyphs">(HU)</text>
<text x="268.86" y="17.00" textLength="33.50" lengthAdjust="spacingAndGlyphs">850</text>
<text x="307.95" y="17.00" textLength="33.59" lengthAdjust="spacingAndGlyphs">hPa</text>
<text x="347.13" y="17.00" textLength="54.01" lengthAdjust="spacingAndGlyphs">Temp.</text>
<text x="406.73" y="17.00" textLength="14.00" lengthAdjust="spacingAndGlyphs">&amp;</text>
<text x="426.31" y="17.00" textLength="118.42" lengthAdjust="spacingAndGlyphs">Niederschlag</text>
<text x="550.32" y="17.00" textLength="5.86" lengthAdjust="spacingAndGlyphs">|</text>
<text x="561.77" y="17.00" textLength="45.60" lengthAdjust="spacingAndGlyphs">Wed,</text>
<text x="612.96" y="17.00" textLength="100.73" lengthAdjust="spacingAndGlyphs">10Dec2025</text>
<text x="719.28" y="17.00" textLength="33.97" lengthAdjust="spacingAndGlyphs">06Z</text>
</g>
<g font-size="17.00" fill="#e0e0e0" opacity="0.995">
<text x="120.00" y="604.00" textLength="31.48" lengthAdjust="spacingAndGlyphs">GFS</text>
<text x="156.56" y="604.00" textLength="83.55" lengthAdjust="spacingAndGlyphs">Ensemble,</text>
<text x="245.19" y="604.00" textLength="52.68" lengthAdjust="spacingAndGlyphs">47.5N,</text>
<text x="302.96" y="604.00" textLength="30.47" lengthAdjust="spacingAndGlyphs">19E</text>
</g>
<g font-size="17.00" fill="#e0e0e0" opacity="0.995">
<text x="650.00" y="604.00" textLength="144.11" lengthAdjust="spacingAndGlyphs">Wetterzentrale.de</text>
</g>
</svg></body></html>
